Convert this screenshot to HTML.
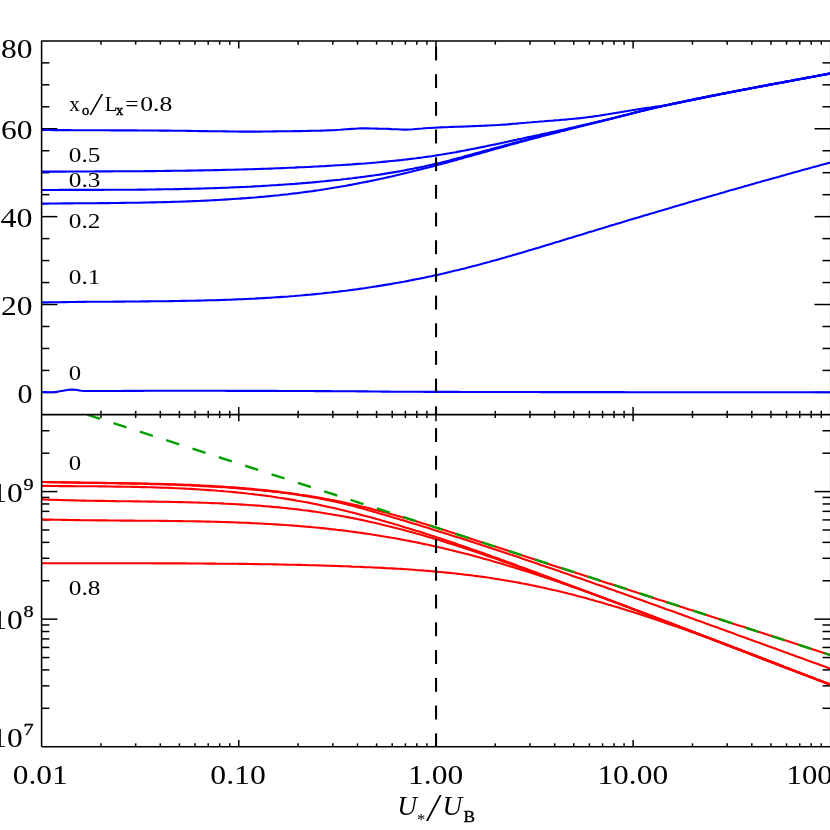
<!DOCTYPE html>
<html><head><meta charset="utf-8"><title>Plot</title>
<style>
html,body{margin:0;padding:0;background:#fff;}
body{width:830px;height:830px;overflow:hidden;font-family:"Liberation Serif",serif;}
svg{display:block;will-change:transform;}
text{fill:#000}
</style></head><body>
<svg width="830" height="830" viewBox="0 0 830 830">
<defs>
<clipPath id="c1"><rect x="41.6" y="40.9" width="788.6999999999999" height="373.70000000000005"/></clipPath>
<clipPath id="c2"><rect x="41.6" y="414.6" width="788.6999999999999" height="332.15"/></clipPath>
</defs>
<rect width="830" height="830" fill="#fff"/>
<line x1="100.95" y1="40.90" x2="100.95" y2="44.65" stroke="#000" stroke-width="1.5" />
<line x1="100.95" y1="410.85" x2="100.95" y2="418.00" stroke="#000" stroke-width="1.5" />
<line x1="100.95" y1="743.35" x2="100.95" y2="746.75" stroke="#000" stroke-width="1.5" />
<line x1="135.67" y1="40.90" x2="135.67" y2="44.65" stroke="#000" stroke-width="1.5" />
<line x1="135.67" y1="410.85" x2="135.67" y2="418.00" stroke="#000" stroke-width="1.5" />
<line x1="135.67" y1="743.35" x2="135.67" y2="746.75" stroke="#000" stroke-width="1.5" />
<line x1="160.31" y1="40.90" x2="160.31" y2="44.65" stroke="#000" stroke-width="1.5" />
<line x1="160.31" y1="410.85" x2="160.31" y2="418.00" stroke="#000" stroke-width="1.5" />
<line x1="160.31" y1="743.35" x2="160.31" y2="746.75" stroke="#000" stroke-width="1.5" />
<line x1="179.42" y1="40.90" x2="179.42" y2="44.65" stroke="#000" stroke-width="1.5" />
<line x1="179.42" y1="410.85" x2="179.42" y2="418.00" stroke="#000" stroke-width="1.5" />
<line x1="179.42" y1="743.35" x2="179.42" y2="746.75" stroke="#000" stroke-width="1.5" />
<line x1="195.03" y1="40.90" x2="195.03" y2="44.65" stroke="#000" stroke-width="1.5" />
<line x1="195.03" y1="410.85" x2="195.03" y2="418.00" stroke="#000" stroke-width="1.5" />
<line x1="195.03" y1="743.35" x2="195.03" y2="746.75" stroke="#000" stroke-width="1.5" />
<line x1="208.23" y1="40.90" x2="208.23" y2="44.65" stroke="#000" stroke-width="1.5" />
<line x1="208.23" y1="410.85" x2="208.23" y2="418.00" stroke="#000" stroke-width="1.5" />
<line x1="208.23" y1="743.35" x2="208.23" y2="746.75" stroke="#000" stroke-width="1.5" />
<line x1="219.66" y1="40.90" x2="219.66" y2="44.65" stroke="#000" stroke-width="1.5" />
<line x1="219.66" y1="410.85" x2="219.66" y2="418.00" stroke="#000" stroke-width="1.5" />
<line x1="219.66" y1="743.35" x2="219.66" y2="746.75" stroke="#000" stroke-width="1.5" />
<line x1="229.75" y1="40.90" x2="229.75" y2="44.65" stroke="#000" stroke-width="1.5" />
<line x1="229.75" y1="410.85" x2="229.75" y2="418.00" stroke="#000" stroke-width="1.5" />
<line x1="229.75" y1="743.35" x2="229.75" y2="746.75" stroke="#000" stroke-width="1.5" />
<line x1="238.77" y1="40.90" x2="238.77" y2="48.40" stroke="#000" stroke-width="1.5" />
<line x1="238.77" y1="407.10" x2="238.77" y2="421.30" stroke="#000" stroke-width="1.5" />
<line x1="238.77" y1="740.05" x2="238.77" y2="746.75" stroke="#000" stroke-width="1.5" />
<line x1="298.12" y1="40.90" x2="298.12" y2="44.65" stroke="#000" stroke-width="1.5" />
<line x1="298.12" y1="410.85" x2="298.12" y2="418.00" stroke="#000" stroke-width="1.5" />
<line x1="298.12" y1="743.35" x2="298.12" y2="746.75" stroke="#000" stroke-width="1.5" />
<line x1="332.84" y1="40.90" x2="332.84" y2="44.65" stroke="#000" stroke-width="1.5" />
<line x1="332.84" y1="410.85" x2="332.84" y2="418.00" stroke="#000" stroke-width="1.5" />
<line x1="332.84" y1="743.35" x2="332.84" y2="746.75" stroke="#000" stroke-width="1.5" />
<line x1="357.48" y1="40.90" x2="357.48" y2="44.65" stroke="#000" stroke-width="1.5" />
<line x1="357.48" y1="410.85" x2="357.48" y2="418.00" stroke="#000" stroke-width="1.5" />
<line x1="357.48" y1="743.35" x2="357.48" y2="746.75" stroke="#000" stroke-width="1.5" />
<line x1="376.59" y1="40.90" x2="376.59" y2="44.65" stroke="#000" stroke-width="1.5" />
<line x1="376.59" y1="410.85" x2="376.59" y2="418.00" stroke="#000" stroke-width="1.5" />
<line x1="376.59" y1="743.35" x2="376.59" y2="746.75" stroke="#000" stroke-width="1.5" />
<line x1="392.20" y1="40.90" x2="392.20" y2="44.65" stroke="#000" stroke-width="1.5" />
<line x1="392.20" y1="410.85" x2="392.20" y2="418.00" stroke="#000" stroke-width="1.5" />
<line x1="392.20" y1="743.35" x2="392.20" y2="746.75" stroke="#000" stroke-width="1.5" />
<line x1="405.40" y1="40.90" x2="405.40" y2="44.65" stroke="#000" stroke-width="1.5" />
<line x1="405.40" y1="410.85" x2="405.40" y2="418.00" stroke="#000" stroke-width="1.5" />
<line x1="405.40" y1="743.35" x2="405.40" y2="746.75" stroke="#000" stroke-width="1.5" />
<line x1="416.83" y1="40.90" x2="416.83" y2="44.65" stroke="#000" stroke-width="1.5" />
<line x1="416.83" y1="410.85" x2="416.83" y2="418.00" stroke="#000" stroke-width="1.5" />
<line x1="416.83" y1="743.35" x2="416.83" y2="746.75" stroke="#000" stroke-width="1.5" />
<line x1="426.92" y1="40.90" x2="426.92" y2="44.65" stroke="#000" stroke-width="1.5" />
<line x1="426.92" y1="410.85" x2="426.92" y2="418.00" stroke="#000" stroke-width="1.5" />
<line x1="426.92" y1="743.35" x2="426.92" y2="746.75" stroke="#000" stroke-width="1.5" />
<line x1="435.94" y1="40.90" x2="435.94" y2="48.40" stroke="#000" stroke-width="1.5" />
<line x1="435.94" y1="407.10" x2="435.94" y2="421.30" stroke="#000" stroke-width="1.5" />
<line x1="435.94" y1="740.05" x2="435.94" y2="746.75" stroke="#000" stroke-width="1.5" />
<line x1="495.29" y1="40.90" x2="495.29" y2="44.65" stroke="#000" stroke-width="1.5" />
<line x1="495.29" y1="410.85" x2="495.29" y2="418.00" stroke="#000" stroke-width="1.5" />
<line x1="495.29" y1="743.35" x2="495.29" y2="746.75" stroke="#000" stroke-width="1.5" />
<line x1="530.01" y1="40.90" x2="530.01" y2="44.65" stroke="#000" stroke-width="1.5" />
<line x1="530.01" y1="410.85" x2="530.01" y2="418.00" stroke="#000" stroke-width="1.5" />
<line x1="530.01" y1="743.35" x2="530.01" y2="746.75" stroke="#000" stroke-width="1.5" />
<line x1="554.65" y1="40.90" x2="554.65" y2="44.65" stroke="#000" stroke-width="1.5" />
<line x1="554.65" y1="410.85" x2="554.65" y2="418.00" stroke="#000" stroke-width="1.5" />
<line x1="554.65" y1="743.35" x2="554.65" y2="746.75" stroke="#000" stroke-width="1.5" />
<line x1="573.76" y1="40.90" x2="573.76" y2="44.65" stroke="#000" stroke-width="1.5" />
<line x1="573.76" y1="410.85" x2="573.76" y2="418.00" stroke="#000" stroke-width="1.5" />
<line x1="573.76" y1="743.35" x2="573.76" y2="746.75" stroke="#000" stroke-width="1.5" />
<line x1="589.37" y1="40.90" x2="589.37" y2="44.65" stroke="#000" stroke-width="1.5" />
<line x1="589.37" y1="410.85" x2="589.37" y2="418.00" stroke="#000" stroke-width="1.5" />
<line x1="589.37" y1="743.35" x2="589.37" y2="746.75" stroke="#000" stroke-width="1.5" />
<line x1="602.57" y1="40.90" x2="602.57" y2="44.65" stroke="#000" stroke-width="1.5" />
<line x1="602.57" y1="410.85" x2="602.57" y2="418.00" stroke="#000" stroke-width="1.5" />
<line x1="602.57" y1="743.35" x2="602.57" y2="746.75" stroke="#000" stroke-width="1.5" />
<line x1="614.00" y1="40.90" x2="614.00" y2="44.65" stroke="#000" stroke-width="1.5" />
<line x1="614.00" y1="410.85" x2="614.00" y2="418.00" stroke="#000" stroke-width="1.5" />
<line x1="614.00" y1="743.35" x2="614.00" y2="746.75" stroke="#000" stroke-width="1.5" />
<line x1="624.09" y1="40.90" x2="624.09" y2="44.65" stroke="#000" stroke-width="1.5" />
<line x1="624.09" y1="410.85" x2="624.09" y2="418.00" stroke="#000" stroke-width="1.5" />
<line x1="624.09" y1="743.35" x2="624.09" y2="746.75" stroke="#000" stroke-width="1.5" />
<line x1="633.11" y1="40.90" x2="633.11" y2="48.40" stroke="#000" stroke-width="1.5" />
<line x1="633.11" y1="407.10" x2="633.11" y2="421.30" stroke="#000" stroke-width="1.5" />
<line x1="633.11" y1="740.05" x2="633.11" y2="746.75" stroke="#000" stroke-width="1.5" />
<line x1="692.46" y1="40.90" x2="692.46" y2="44.65" stroke="#000" stroke-width="1.5" />
<line x1="692.46" y1="410.85" x2="692.46" y2="418.00" stroke="#000" stroke-width="1.5" />
<line x1="692.46" y1="743.35" x2="692.46" y2="746.75" stroke="#000" stroke-width="1.5" />
<line x1="727.18" y1="40.90" x2="727.18" y2="44.65" stroke="#000" stroke-width="1.5" />
<line x1="727.18" y1="410.85" x2="727.18" y2="418.00" stroke="#000" stroke-width="1.5" />
<line x1="727.18" y1="743.35" x2="727.18" y2="746.75" stroke="#000" stroke-width="1.5" />
<line x1="751.82" y1="40.90" x2="751.82" y2="44.65" stroke="#000" stroke-width="1.5" />
<line x1="751.82" y1="410.85" x2="751.82" y2="418.00" stroke="#000" stroke-width="1.5" />
<line x1="751.82" y1="743.35" x2="751.82" y2="746.75" stroke="#000" stroke-width="1.5" />
<line x1="770.93" y1="40.90" x2="770.93" y2="44.65" stroke="#000" stroke-width="1.5" />
<line x1="770.93" y1="410.85" x2="770.93" y2="418.00" stroke="#000" stroke-width="1.5" />
<line x1="770.93" y1="743.35" x2="770.93" y2="746.75" stroke="#000" stroke-width="1.5" />
<line x1="786.54" y1="40.90" x2="786.54" y2="44.65" stroke="#000" stroke-width="1.5" />
<line x1="786.54" y1="410.85" x2="786.54" y2="418.00" stroke="#000" stroke-width="1.5" />
<line x1="786.54" y1="743.35" x2="786.54" y2="746.75" stroke="#000" stroke-width="1.5" />
<line x1="799.74" y1="40.90" x2="799.74" y2="44.65" stroke="#000" stroke-width="1.5" />
<line x1="799.74" y1="410.85" x2="799.74" y2="418.00" stroke="#000" stroke-width="1.5" />
<line x1="799.74" y1="743.35" x2="799.74" y2="746.75" stroke="#000" stroke-width="1.5" />
<line x1="811.17" y1="40.90" x2="811.17" y2="44.65" stroke="#000" stroke-width="1.5" />
<line x1="811.17" y1="410.85" x2="811.17" y2="418.00" stroke="#000" stroke-width="1.5" />
<line x1="811.17" y1="743.35" x2="811.17" y2="746.75" stroke="#000" stroke-width="1.5" />
<line x1="821.26" y1="40.90" x2="821.26" y2="44.65" stroke="#000" stroke-width="1.5" />
<line x1="821.26" y1="410.85" x2="821.26" y2="418.00" stroke="#000" stroke-width="1.5" />
<line x1="821.26" y1="743.35" x2="821.26" y2="746.75" stroke="#000" stroke-width="1.5" />
<line x1="41.60" y1="392.40" x2="57.40" y2="392.40" stroke="#000" stroke-width="1.5" />
<line x1="814.50" y1="392.40" x2="830.30" y2="392.40" stroke="#000" stroke-width="1.5" />
<line x1="41.60" y1="370.43" x2="49.40" y2="370.43" stroke="#000" stroke-width="1.5" />
<line x1="822.50" y1="370.43" x2="830.30" y2="370.43" stroke="#000" stroke-width="1.5" />
<line x1="41.60" y1="348.46" x2="49.40" y2="348.46" stroke="#000" stroke-width="1.5" />
<line x1="822.50" y1="348.46" x2="830.30" y2="348.46" stroke="#000" stroke-width="1.5" />
<line x1="41.60" y1="326.49" x2="49.40" y2="326.49" stroke="#000" stroke-width="1.5" />
<line x1="822.50" y1="326.49" x2="830.30" y2="326.49" stroke="#000" stroke-width="1.5" />
<line x1="41.60" y1="304.52" x2="57.40" y2="304.52" stroke="#000" stroke-width="1.5" />
<line x1="814.50" y1="304.52" x2="830.30" y2="304.52" stroke="#000" stroke-width="1.5" />
<line x1="41.60" y1="282.55" x2="49.40" y2="282.55" stroke="#000" stroke-width="1.5" />
<line x1="822.50" y1="282.55" x2="830.30" y2="282.55" stroke="#000" stroke-width="1.5" />
<line x1="41.60" y1="260.58" x2="49.40" y2="260.58" stroke="#000" stroke-width="1.5" />
<line x1="822.50" y1="260.58" x2="830.30" y2="260.58" stroke="#000" stroke-width="1.5" />
<line x1="41.60" y1="238.61" x2="49.40" y2="238.61" stroke="#000" stroke-width="1.5" />
<line x1="822.50" y1="238.61" x2="830.30" y2="238.61" stroke="#000" stroke-width="1.5" />
<line x1="41.60" y1="216.64" x2="57.40" y2="216.64" stroke="#000" stroke-width="1.5" />
<line x1="814.50" y1="216.64" x2="830.30" y2="216.64" stroke="#000" stroke-width="1.5" />
<line x1="41.60" y1="194.67" x2="49.40" y2="194.67" stroke="#000" stroke-width="1.5" />
<line x1="822.50" y1="194.67" x2="830.30" y2="194.67" stroke="#000" stroke-width="1.5" />
<line x1="41.60" y1="172.70" x2="49.40" y2="172.70" stroke="#000" stroke-width="1.5" />
<line x1="822.50" y1="172.70" x2="830.30" y2="172.70" stroke="#000" stroke-width="1.5" />
<line x1="41.60" y1="150.73" x2="49.40" y2="150.73" stroke="#000" stroke-width="1.5" />
<line x1="822.50" y1="150.73" x2="830.30" y2="150.73" stroke="#000" stroke-width="1.5" />
<line x1="41.60" y1="128.76" x2="57.40" y2="128.76" stroke="#000" stroke-width="1.5" />
<line x1="814.50" y1="128.76" x2="830.30" y2="128.76" stroke="#000" stroke-width="1.5" />
<line x1="41.60" y1="106.79" x2="49.40" y2="106.79" stroke="#000" stroke-width="1.5" />
<line x1="822.50" y1="106.79" x2="830.30" y2="106.79" stroke="#000" stroke-width="1.5" />
<line x1="41.60" y1="84.82" x2="49.40" y2="84.82" stroke="#000" stroke-width="1.5" />
<line x1="822.50" y1="84.82" x2="830.30" y2="84.82" stroke="#000" stroke-width="1.5" />
<line x1="41.60" y1="62.85" x2="49.40" y2="62.85" stroke="#000" stroke-width="1.5" />
<line x1="822.50" y1="62.85" x2="830.30" y2="62.85" stroke="#000" stroke-width="1.5" />
<line x1="41.60" y1="708.30" x2="49.40" y2="708.30" stroke="#000" stroke-width="1.5" />
<line x1="822.50" y1="708.30" x2="830.30" y2="708.30" stroke="#000" stroke-width="1.5" />
<line x1="41.60" y1="685.84" x2="49.40" y2="685.84" stroke="#000" stroke-width="1.5" />
<line x1="822.50" y1="685.84" x2="830.30" y2="685.84" stroke="#000" stroke-width="1.5" />
<line x1="41.60" y1="669.91" x2="49.40" y2="669.91" stroke="#000" stroke-width="1.5" />
<line x1="822.50" y1="669.91" x2="830.30" y2="669.91" stroke="#000" stroke-width="1.5" />
<line x1="41.60" y1="657.55" x2="49.40" y2="657.55" stroke="#000" stroke-width="1.5" />
<line x1="822.50" y1="657.55" x2="830.30" y2="657.55" stroke="#000" stroke-width="1.5" />
<line x1="41.60" y1="647.45" x2="49.40" y2="647.45" stroke="#000" stroke-width="1.5" />
<line x1="822.50" y1="647.45" x2="830.30" y2="647.45" stroke="#000" stroke-width="1.5" />
<line x1="41.60" y1="638.91" x2="49.40" y2="638.91" stroke="#000" stroke-width="1.5" />
<line x1="822.50" y1="638.91" x2="830.30" y2="638.91" stroke="#000" stroke-width="1.5" />
<line x1="41.60" y1="631.51" x2="49.40" y2="631.51" stroke="#000" stroke-width="1.5" />
<line x1="822.50" y1="631.51" x2="830.30" y2="631.51" stroke="#000" stroke-width="1.5" />
<line x1="41.60" y1="624.99" x2="49.40" y2="624.99" stroke="#000" stroke-width="1.5" />
<line x1="822.50" y1="624.99" x2="830.30" y2="624.99" stroke="#000" stroke-width="1.5" />
<line x1="41.60" y1="619.15" x2="57.40" y2="619.15" stroke="#000" stroke-width="1.5" />
<line x1="814.50" y1="619.15" x2="830.30" y2="619.15" stroke="#000" stroke-width="1.5" />
<line x1="41.60" y1="580.75" x2="49.40" y2="580.75" stroke="#000" stroke-width="1.5" />
<line x1="822.50" y1="580.75" x2="830.30" y2="580.75" stroke="#000" stroke-width="1.5" />
<line x1="41.60" y1="558.29" x2="49.40" y2="558.29" stroke="#000" stroke-width="1.5" />
<line x1="822.50" y1="558.29" x2="830.30" y2="558.29" stroke="#000" stroke-width="1.5" />
<line x1="41.60" y1="542.36" x2="49.40" y2="542.36" stroke="#000" stroke-width="1.5" />
<line x1="822.50" y1="542.36" x2="830.30" y2="542.36" stroke="#000" stroke-width="1.5" />
<line x1="41.60" y1="530.00" x2="49.40" y2="530.00" stroke="#000" stroke-width="1.5" />
<line x1="822.50" y1="530.00" x2="830.30" y2="530.00" stroke="#000" stroke-width="1.5" />
<line x1="41.60" y1="519.90" x2="49.40" y2="519.90" stroke="#000" stroke-width="1.5" />
<line x1="822.50" y1="519.90" x2="830.30" y2="519.90" stroke="#000" stroke-width="1.5" />
<line x1="41.60" y1="511.36" x2="49.40" y2="511.36" stroke="#000" stroke-width="1.5" />
<line x1="822.50" y1="511.36" x2="830.30" y2="511.36" stroke="#000" stroke-width="1.5" />
<line x1="41.60" y1="503.96" x2="49.40" y2="503.96" stroke="#000" stroke-width="1.5" />
<line x1="822.50" y1="503.96" x2="830.30" y2="503.96" stroke="#000" stroke-width="1.5" />
<line x1="41.60" y1="497.44" x2="49.40" y2="497.44" stroke="#000" stroke-width="1.5" />
<line x1="822.50" y1="497.44" x2="830.30" y2="497.44" stroke="#000" stroke-width="1.5" />
<line x1="41.60" y1="491.60" x2="57.40" y2="491.60" stroke="#000" stroke-width="1.5" />
<line x1="814.50" y1="491.60" x2="830.30" y2="491.60" stroke="#000" stroke-width="1.5" />
<line x1="41.60" y1="453.20" x2="49.40" y2="453.20" stroke="#000" stroke-width="1.5" />
<line x1="822.50" y1="453.20" x2="830.30" y2="453.20" stroke="#000" stroke-width="1.5" />
<line x1="41.60" y1="430.74" x2="49.40" y2="430.74" stroke="#000" stroke-width="1.5" />
<line x1="822.50" y1="430.74" x2="830.30" y2="430.74" stroke="#000" stroke-width="1.5" />
<g clip-path="url(#c1)">
<path d="M41.6,392.0 L44.6,392.1 L47.7,392.2 L50.7,392.2 L53.8,392.1 L56.8,391.8 L59.9,391.3 L62.9,390.8 L66.0,390.2 L69.0,389.8 L72.0,389.5 L75.1,389.7 L78.1,390.2 L81.2,390.8 L84.2,391.0 L87.3,391.0 L90.3,391.0 L93.3,391.0 L96.4,391.0 L99.4,391.0 L102.5,391.0 L105.5,391.0 L108.6,391.0 L111.6,391.0 L114.7,391.0 L117.7,391.0 L120.7,391.0 L123.8,390.9 L126.8,390.9 L129.9,390.9 L132.9,390.9 L136.0,390.9 L139.0,390.9 L142.1,390.9 L145.1,390.8 L148.1,390.8 L151.2,390.8 L154.2,390.8 L157.3,390.8 L160.3,390.8 L163.4,390.8 L166.4,390.8 L169.4,390.8 L172.5,390.8 L175.5,390.8 L178.6,390.8 L181.6,390.8 L184.7,390.8 L187.7,390.8 L190.8,390.8 L193.8,390.8 L196.8,390.8 L199.9,390.8 L202.9,390.8 L206.0,390.8 L209.0,390.8 L212.1,390.8 L215.1,390.8 L218.2,390.8 L221.2,390.8 L224.2,390.8 L227.3,390.9 L230.3,390.9 L233.4,390.9 L236.4,390.9 L239.5,390.9 L242.5,390.9 L245.5,390.9 L248.6,390.9 L251.6,390.9 L254.7,390.9 L257.7,390.9 L260.8,390.9 L263.8,390.9 L266.9,390.9 L269.9,390.9 L272.9,390.9 L276.0,390.9 L279.0,391.0 L282.1,391.0 L285.1,391.0 L288.2,391.0 L291.2,391.0 L294.3,391.0 L297.3,391.0 L300.3,391.0 L303.4,391.0 L306.4,391.0 L309.5,391.0 L312.5,391.0 L315.6,391.1 L318.6,391.1 L321.6,391.1 L324.7,391.1 L327.7,391.1 L330.8,391.1 L333.8,391.2 L336.9,391.2 L339.9,391.2 L343.0,391.2 L346.0,391.3 L349.0,391.3 L352.1,391.3 L355.1,391.3 L358.2,391.4 L361.2,391.4 L364.3,391.4 L367.3,391.4 L370.4,391.5 L373.4,391.5 L376.4,391.5 L379.5,391.5 L382.5,391.6 L385.6,391.6 L388.6,391.6 L391.7,391.7 L394.7,391.7 L397.7,391.7 L400.8,391.7 L403.8,391.7 L406.9,391.8 L409.9,391.8 L413.0,391.8 L416.0,391.8 L419.1,391.8 L422.1,391.8 L425.1,391.9 L428.2,391.9 L431.2,391.9 L434.3,391.9 L437.3,391.9 L440.4,391.9 L443.4,391.9 L446.5,391.9 L449.5,391.9 L452.5,391.9 L455.6,391.9 L458.6,391.9 L461.7,392.0 L464.7,392.0 L467.8,392.0 L470.8,392.0 L473.9,392.0 L476.9,392.0 L479.9,392.0 L483.0,392.0 L486.0,392.0 L489.1,392.0 L492.1,392.0 L495.2,392.0 L498.2,392.0 L501.2,392.0 L504.3,392.0 L507.3,392.0 L510.4,392.0 L513.4,392.0 L516.5,392.0 L519.5,392.0 L522.6,392.0 L525.6,392.0 L528.6,392.0 L531.7,392.0 L534.7,392.0 L537.8,392.0 L540.8,392.1 L543.9,392.1 L546.9,392.1 L550.0,392.1 L553.0,392.1 L556.0,392.1 L559.1,392.1 L562.1,392.1 L565.2,392.1 L568.2,392.1 L571.3,392.1 L574.3,392.1 L577.3,392.1 L580.4,392.1 L583.4,392.1 L586.5,392.1 L589.5,392.1 L592.6,392.1 L595.6,392.1 L598.7,392.1 L601.7,392.1 L604.7,392.1 L607.8,392.1 L610.8,392.1 L613.9,392.1 L616.9,392.1 L620.0,392.1 L623.0,392.1 L626.1,392.2 L629.1,392.2 L632.1,392.2 L635.2,392.2 L638.2,392.2 L641.3,392.2 L644.3,392.2 L647.4,392.2 L650.4,392.2 L653.4,392.2 L656.5,392.2 L659.5,392.2 L662.6,392.2 L665.6,392.2 L668.7,392.2 L671.7,392.2 L674.8,392.2 L677.8,392.2 L680.8,392.2 L683.9,392.2 L686.9,392.2 L690.0,392.2 L693.0,392.2 L696.1,392.2 L699.1,392.2 L702.2,392.2 L705.2,392.2 L708.2,392.2 L711.3,392.2 L714.3,392.2 L717.4,392.2 L720.4,392.2 L723.5,392.2 L726.5,392.2 L729.5,392.2 L732.6,392.2 L735.6,392.3 L738.7,392.3 L741.7,392.3 L744.8,392.3 L747.8,392.3 L750.9,392.3 L753.9,392.3 L756.9,392.3 L760.0,392.3 L763.0,392.3 L766.1,392.3 L769.1,392.3 L772.2,392.3 L775.2,392.3 L778.3,392.3 L781.3,392.3 L784.3,392.3 L787.4,392.3 L790.4,392.3 L793.5,392.3 L796.5,392.3 L799.6,392.3 L802.6,392.3 L805.6,392.3 L808.7,392.3 L811.7,392.3 L814.8,392.3 L817.8,392.3 L820.9,392.3 L823.9,392.3 L827.0,392.3 L830.0,392.3" fill="none" stroke="#0000ff" stroke-width="2.1" stroke-linejoin="round"/>
<path d="M41.6,302.5 L44.6,302.4 L47.7,302.4 L50.7,302.3 L53.8,302.3 L56.8,302.2 L59.9,302.2 L62.9,302.1 L66.0,302.1 L69.0,302.0 L72.0,302.0 L75.1,302.0 L78.1,301.9 L81.2,301.9 L84.2,301.9 L87.3,301.8 L90.3,301.8 L93.3,301.8 L96.4,301.8 L99.4,301.7 L102.5,301.7 L105.5,301.7 L108.6,301.7 L111.6,301.7 L114.7,301.6 L117.7,301.6 L120.7,301.6 L123.8,301.6 L126.8,301.5 L129.9,301.5 L132.9,301.5 L136.0,301.5 L139.0,301.5 L142.1,301.4 L145.1,301.4 L148.1,301.4 L151.2,301.3 L154.2,301.3 L157.3,301.3 L160.3,301.2 L163.4,301.2 L166.4,301.2 L169.4,301.1 L172.5,301.1 L175.5,301.0 L178.6,301.0 L181.6,300.9 L184.7,300.9 L187.7,300.8 L190.8,300.8 L193.8,300.7 L196.8,300.6 L199.9,300.6 L202.9,300.5 L206.0,300.4 L209.0,300.3 L212.1,300.3 L215.1,300.2 L218.2,300.1 L221.2,300.0 L224.2,299.9 L227.3,299.8 L230.3,299.7 L233.4,299.5 L236.4,299.4 L239.5,299.3 L242.5,299.2 L245.5,299.0 L248.6,298.9 L251.6,298.7 L254.7,298.6 L257.7,298.4 L260.8,298.3 L263.8,298.1 L266.9,297.9 L269.9,297.7 L272.9,297.5 L276.0,297.3 L279.0,297.1 L282.1,296.9 L285.1,296.7 L288.2,296.5 L291.2,296.2 L294.3,296.0 L297.3,295.7 L300.3,295.5 L303.4,295.2 L306.4,294.9 L309.5,294.7 L312.5,294.4 L315.6,294.1 L318.6,293.8 L321.6,293.5 L324.7,293.1 L327.7,292.8 L330.8,292.5 L333.8,292.1 L336.9,291.8 L339.9,291.4 L343.0,291.0 L346.0,290.7 L349.0,290.3 L352.1,289.9 L355.1,289.5 L358.2,289.1 L361.2,288.6 L364.3,288.2 L367.3,287.7 L370.4,287.3 L373.4,286.8 L376.4,286.4 L379.5,285.9 L382.5,285.4 L385.6,284.9 L388.6,284.4 L391.7,283.9 L394.7,283.3 L397.7,282.8 L400.8,282.2 L403.8,281.7 L406.9,281.1 L409.9,280.5 L413.0,279.9 L416.0,279.3 L419.1,278.7 L422.1,278.1 L425.1,277.5 L428.2,276.8 L431.2,276.2 L434.3,275.5 L437.3,274.9 L440.4,274.2 L443.4,273.5 L446.5,272.8 L449.5,272.1 L452.5,271.3 L455.6,270.6 L458.6,269.9 L461.7,269.1 L464.7,268.4 L467.8,267.6 L470.8,266.8 L473.9,266.0 L476.9,265.2 L479.9,264.4 L483.0,263.6 L486.0,262.8 L489.1,262.0 L492.1,261.1 L495.2,260.3 L498.2,259.4 L501.2,258.6 L504.3,257.7 L507.3,256.8 L510.4,256.0 L513.4,255.1 L516.5,254.2 L519.5,253.3 L522.6,252.4 L525.6,251.5 L528.6,250.6 L531.7,249.7 L534.7,248.8 L537.8,247.9 L540.8,247.0 L543.9,246.0 L546.9,245.1 L550.0,244.2 L553.0,243.3 L556.0,242.3 L559.1,241.4 L562.1,240.5 L565.2,239.5 L568.2,238.6 L571.3,237.7 L574.3,236.7 L577.3,235.8 L580.4,234.9 L583.4,234.0 L586.5,233.0 L589.5,232.1 L592.6,231.2 L595.6,230.2 L598.7,229.3 L601.7,228.4 L604.7,227.5 L607.8,226.6 L610.8,225.6 L613.9,224.7 L616.9,223.8 L620.0,222.9 L623.0,222.0 L626.1,221.0 L629.1,220.1 L632.1,219.2 L635.2,218.3 L638.2,217.4 L641.3,216.5 L644.3,215.6 L647.4,214.7 L650.4,213.8 L653.4,212.9 L656.5,212.0 L659.5,211.1 L662.6,210.2 L665.6,209.3 L668.7,208.4 L671.7,207.5 L674.8,206.6 L677.8,205.7 L680.8,204.8 L683.9,203.9 L686.9,203.0 L690.0,202.1 L693.0,201.2 L696.1,200.3 L699.1,199.4 L702.2,198.6 L705.2,197.7 L708.2,196.8 L711.3,195.9 L714.3,195.0 L717.4,194.2 L720.4,193.3 L723.5,192.4 L726.5,191.5 L729.5,190.6 L732.6,189.8 L735.6,188.9 L738.7,188.0 L741.7,187.2 L744.8,186.3 L747.8,185.4 L750.9,184.6 L753.9,183.7 L756.9,182.8 L760.0,182.0 L763.0,181.1 L766.1,180.3 L769.1,179.4 L772.2,178.6 L775.2,177.7 L778.3,176.9 L781.3,176.0 L784.3,175.2 L787.4,174.3 L790.4,173.5 L793.5,172.6 L796.5,171.8 L799.6,170.9 L802.6,170.1 L805.6,169.3 L808.7,168.4 L811.7,167.6 L814.8,166.7 L817.8,165.9 L820.9,165.1 L823.9,164.3 L827.0,163.4 L830.0,162.6" fill="none" stroke="#0000ff" stroke-width="2.1" stroke-linejoin="round"/>
<path d="M41.6,203.6 L44.6,203.6 L47.7,203.6 L50.7,203.5 L53.8,203.5 L56.8,203.5 L59.9,203.5 L62.9,203.4 L66.0,203.4 L69.0,203.4 L72.0,203.4 L75.1,203.3 L78.1,203.3 L81.2,203.3 L84.2,203.3 L87.3,203.2 L90.3,203.2 L93.3,203.2 L96.4,203.2 L99.4,203.1 L102.5,203.1 L105.5,203.1 L108.6,203.1 L111.6,203.0 L114.7,203.0 L117.7,203.0 L120.7,202.9 L123.8,202.9 L126.8,202.8 L129.9,202.8 L132.9,202.8 L136.0,202.7 L139.0,202.7 L142.1,202.6 L145.1,202.5 L148.1,202.5 L151.2,202.4 L154.2,202.4 L157.3,202.3 L160.3,202.2 L163.4,202.1 L166.4,202.1 L169.4,202.0 L172.5,201.9 L175.5,201.8 L178.6,201.7 L181.6,201.6 L184.7,201.5 L187.7,201.4 L190.8,201.3 L193.8,201.1 L196.8,201.0 L199.9,200.9 L202.9,200.7 L206.0,200.6 L209.0,200.5 L212.1,200.3 L215.1,200.1 L218.2,200.0 L221.2,199.8 L224.2,199.6 L227.3,199.4 L230.3,199.2 L233.4,199.0 L236.4,198.8 L239.5,198.6 L242.5,198.4 L245.5,198.2 L248.6,197.9 L251.6,197.7 L254.7,197.5 L257.7,197.2 L260.8,196.9 L263.8,196.7 L266.9,196.4 L269.9,196.1 L272.9,195.8 L276.0,195.5 L279.0,195.2 L282.1,194.8 L285.1,194.5 L288.2,194.2 L291.2,193.8 L294.3,193.4 L297.3,193.1 L300.3,192.7 L303.4,192.3 L306.4,191.9 L309.5,191.5 L312.5,191.1 L315.6,190.6 L318.6,190.2 L321.6,189.7 L324.7,189.3 L327.7,188.8 L330.8,188.3 L333.8,187.8 L336.9,187.3 L339.9,186.8 L343.0,186.2 L346.0,185.7 L349.0,185.1 L352.1,184.6 L355.1,184.0 L358.2,183.4 L361.2,182.8 L364.3,182.2 L367.3,181.6 L370.4,181.0 L373.4,180.4 L376.4,179.7 L379.5,179.1 L382.5,178.4 L385.6,177.7 L388.6,177.1 L391.7,176.4 L394.7,175.7 L397.7,175.0 L400.8,174.3 L403.8,173.5 L406.9,172.8 L409.9,172.1 L413.0,171.3 L416.0,170.6 L419.1,169.8 L422.1,169.0 L425.1,168.3 L428.2,167.5 L431.2,166.7 L434.3,165.9 L437.3,165.1 L440.4,164.3 L443.4,163.5 L446.5,162.7 L449.5,161.8 L452.5,161.0 L455.6,160.2 L458.6,159.3 L461.7,158.5 L464.7,157.6 L467.8,156.8 L470.8,155.9 L473.9,155.1 L476.9,154.2 L479.9,153.4 L483.0,152.5 L486.0,151.7 L489.1,150.8 L492.1,149.9 L495.2,149.1 L498.2,148.2 L501.2,147.4 L504.3,146.5 L507.3,145.7 L510.4,144.8 L513.4,144.0 L516.5,143.2 L519.5,142.3 L522.6,141.5 L525.6,140.7 L528.6,139.8 L531.7,139.0 L534.7,138.2 L537.8,137.4 L540.8,136.6 L543.9,135.8 L546.9,135.0 L550.0,134.2 L553.0,133.5 L556.0,132.7 L559.1,131.9 L562.1,131.1 L565.2,130.4 L568.2,129.6 L571.3,128.8 L574.3,128.0 L577.3,127.3 L580.4,126.5 L583.4,125.8 L586.5,125.0 L589.5,124.2 L592.6,123.5 L595.6,122.7 L598.7,121.9 L601.7,121.2 L604.7,120.4 L607.8,119.6 L610.8,118.9 L613.9,118.1 L616.9,117.3 L620.0,116.5 L623.0,115.8 L626.1,115.0 L629.1,114.2 L632.1,113.4 L635.2,112.6 L638.2,111.9 L641.3,111.1 L644.3,110.4 L647.4,109.6 L650.4,108.9 L653.4,108.2 L656.5,107.5 L659.5,106.9 L662.6,106.2 L665.6,105.5 L668.7,104.9 L671.7,104.2 L674.8,103.6 L677.8,103.0 L680.8,102.3 L683.9,101.7 L686.9,101.0 L690.0,100.4 L693.0,99.8 L696.1,99.2 L699.1,98.6 L702.2,97.9 L705.2,97.3 L708.2,96.7 L711.3,96.1 L714.3,95.5 L717.4,94.9 L720.4,94.3 L723.5,93.7 L726.5,93.1 L729.5,92.5 L732.6,91.9 L735.6,91.3 L738.7,90.7 L741.7,90.2 L744.8,89.6 L747.8,89.0 L750.9,88.4 L753.9,87.8 L756.9,87.3 L760.0,86.7 L763.0,86.1 L766.1,85.5 L769.1,85.0 L772.2,84.4 L775.2,83.8 L778.3,83.2 L781.3,82.7 L784.3,82.1 L787.4,81.5 L790.4,81.0 L793.5,80.4 L796.5,79.8 L799.6,79.2 L802.6,78.7 L805.6,78.1 L808.7,77.5 L811.7,77.0 L814.8,76.4 L817.8,75.8 L820.9,75.3 L823.9,74.7 L827.0,74.1 L830.0,73.6" fill="none" stroke="#0000ff" stroke-width="2.1" stroke-linejoin="round"/>
<path d="M41.6,190.0 L44.6,190.0 L47.7,190.0 L50.7,190.0 L53.8,190.0 L56.8,190.0 L59.9,189.9 L62.9,189.9 L66.0,189.9 L69.0,189.9 L72.0,189.9 L75.1,189.9 L78.1,189.9 L81.2,189.9 L84.2,189.9 L87.3,189.9 L90.3,189.9 L93.3,189.9 L96.4,189.9 L99.4,189.9 L102.5,189.9 L105.5,189.8 L108.6,189.8 L111.6,189.8 L114.7,189.8 L117.7,189.8 L120.7,189.8 L123.8,189.8 L126.8,189.7 L129.9,189.7 L132.9,189.7 L136.0,189.7 L139.0,189.6 L142.1,189.6 L145.1,189.6 L148.1,189.5 L151.2,189.5 L154.2,189.5 L157.3,189.4 L160.3,189.4 L163.4,189.3 L166.4,189.3 L169.4,189.2 L172.5,189.2 L175.5,189.1 L178.6,189.1 L181.6,189.0 L184.7,188.9 L187.7,188.9 L190.8,188.8 L193.8,188.7 L196.8,188.6 L199.9,188.6 L202.9,188.5 L206.0,188.4 L209.0,188.3 L212.1,188.2 L215.1,188.1 L218.2,188.0 L221.2,187.9 L224.2,187.8 L227.3,187.7 L230.3,187.5 L233.4,187.4 L236.4,187.3 L239.5,187.1 L242.5,187.0 L245.5,186.9 L248.6,186.7 L251.6,186.6 L254.7,186.4 L257.7,186.2 L260.8,186.1 L263.8,185.9 L266.9,185.7 L269.9,185.5 L272.9,185.3 L276.0,185.2 L279.0,184.9 L282.1,184.7 L285.1,184.5 L288.2,184.3 L291.2,184.1 L294.3,183.9 L297.3,183.6 L300.3,183.4 L303.4,183.1 L306.4,182.9 L309.5,182.6 L312.5,182.4 L315.6,182.1 L318.6,181.8 L321.6,181.5 L324.7,181.2 L327.7,180.9 L330.8,180.6 L333.8,180.3 L336.9,180.0 L339.9,179.7 L343.0,179.3 L346.0,179.0 L349.0,178.6 L352.1,178.3 L355.1,177.9 L358.2,177.5 L361.2,177.1 L364.3,176.7 L367.3,176.3 L370.4,175.9 L373.4,175.5 L376.4,175.0 L379.5,174.6 L382.5,174.1 L385.6,173.6 L388.6,173.1 L391.7,172.6 L394.7,172.1 L397.7,171.6 L400.8,171.1 L403.8,170.5 L406.9,169.9 L409.9,169.3 L413.0,168.8 L416.0,168.1 L419.1,167.5 L422.1,166.9 L425.1,166.2 L428.2,165.5 L431.2,164.9 L434.3,164.1 L437.3,163.4 L440.4,162.7 L443.4,161.9 L446.5,161.2 L449.5,160.4 L452.5,159.6 L455.6,158.8 L458.6,158.0 L461.7,157.2 L464.7,156.3 L467.8,155.5 L470.8,154.7 L473.9,153.8 L476.9,153.0 L479.9,152.2 L483.0,151.3 L486.0,150.5 L489.1,149.7 L492.1,148.8 L495.2,148.0 L498.2,147.2 L501.2,146.4 L504.3,145.6 L507.3,144.7 L510.4,143.9 L513.4,143.1 L516.5,142.3 L519.5,141.5 L522.6,140.7 L525.6,139.9 L528.6,139.1 L531.7,138.3 L534.7,137.6 L537.8,136.8 L540.8,136.0 L543.9,135.2 L546.9,134.5 L550.0,133.7 L553.0,132.9 L556.0,132.1 L559.1,131.4 L562.1,130.6 L565.2,129.9 L568.2,129.1 L571.3,128.4 L574.3,127.6 L577.3,126.8 L580.4,126.1 L583.4,125.3 L586.5,124.6 L589.5,123.8 L592.6,123.1 L595.6,122.3 L598.7,121.6 L601.7,120.9 L604.7,120.1 L607.8,119.4 L610.8,118.6 L613.9,117.9 L616.9,117.1 L620.0,116.4 L623.0,115.6 L626.1,114.9 L629.1,114.1 L632.1,113.4 L635.2,112.6 L638.2,111.9 L641.3,111.1 L644.3,110.4 L647.4,109.7 L650.4,108.9 L653.4,108.2 L656.5,107.5 L659.5,106.8 L662.6,106.1 L665.6,105.4 L668.7,104.8 L671.7,104.1 L674.8,103.4 L677.8,102.8 L680.8,102.1 L683.9,101.5 L686.9,100.8 L690.0,100.2 L693.0,99.5 L696.1,98.9 L699.1,98.3 L702.2,97.7 L705.2,97.1 L708.2,96.5 L711.3,95.8 L714.3,95.2 L717.4,94.7 L720.4,94.1 L723.5,93.5 L726.5,92.9 L729.5,92.3 L732.6,91.7 L735.6,91.1 L738.7,90.6 L741.7,90.0 L744.8,89.4 L747.8,88.9 L750.9,88.3 L753.9,87.7 L756.9,87.2 L760.0,86.6 L763.0,86.0 L766.1,85.5 L769.1,84.9 L772.2,84.3 L775.2,83.8 L778.3,83.2 L781.3,82.7 L784.3,82.1 L787.4,81.5 L790.4,81.0 L793.5,80.4 L796.5,79.8 L799.6,79.3 L802.6,78.7 L805.6,78.1 L808.7,77.6 L811.7,77.0 L814.8,76.4 L817.8,75.9 L820.9,75.3 L823.9,74.7 L827.0,74.1 L830.0,73.5" fill="none" stroke="#0000ff" stroke-width="2.1" stroke-linejoin="round"/>
<path d="M41.6,171.6 L44.6,171.6 L47.7,171.6 L50.7,171.6 L53.8,171.6 L56.8,171.6 L59.9,171.6 L62.9,171.6 L66.0,171.6 L69.0,171.5 L72.0,171.5 L75.1,171.5 L78.1,171.5 L81.2,171.5 L84.2,171.5 L87.3,171.5 L90.3,171.5 L93.3,171.5 L96.4,171.4 L99.4,171.4 L102.5,171.4 L105.5,171.4 L108.6,171.4 L111.6,171.4 L114.7,171.3 L117.7,171.3 L120.7,171.3 L123.8,171.3 L126.8,171.3 L129.9,171.3 L132.9,171.2 L136.0,171.2 L139.0,171.2 L142.1,171.2 L145.1,171.1 L148.1,171.1 L151.2,171.1 L154.2,171.1 L157.3,171.0 L160.3,171.0 L163.4,171.0 L166.4,170.9 L169.4,170.9 L172.5,170.8 L175.5,170.8 L178.6,170.8 L181.6,170.7 L184.7,170.7 L187.7,170.6 L190.8,170.6 L193.8,170.5 L196.8,170.5 L199.9,170.4 L202.9,170.4 L206.0,170.3 L209.0,170.3 L212.1,170.2 L215.1,170.1 L218.2,170.1 L221.2,170.0 L224.2,169.9 L227.3,169.8 L230.3,169.8 L233.4,169.7 L236.4,169.6 L239.5,169.5 L242.5,169.5 L245.5,169.4 L248.6,169.3 L251.6,169.2 L254.7,169.1 L257.7,169.0 L260.8,168.9 L263.8,168.8 L266.9,168.7 L269.9,168.6 L272.9,168.5 L276.0,168.3 L279.0,168.2 L282.1,168.1 L285.1,168.0 L288.2,167.8 L291.2,167.7 L294.3,167.6 L297.3,167.4 L300.3,167.3 L303.4,167.2 L306.4,167.0 L309.5,166.9 L312.5,166.7 L315.6,166.5 L318.6,166.4 L321.6,166.2 L324.7,166.1 L327.7,165.9 L330.8,165.7 L333.8,165.5 L336.9,165.3 L339.9,165.2 L343.0,165.0 L346.0,164.8 L349.0,164.6 L352.1,164.4 L355.1,164.1 L358.2,163.9 L361.2,163.7 L364.3,163.5 L367.3,163.2 L370.4,163.0 L373.4,162.7 L376.4,162.5 L379.5,162.2 L382.5,161.9 L385.6,161.6 L388.6,161.3 L391.7,161.0 L394.7,160.7 L397.7,160.4 L400.8,160.1 L403.8,159.7 L406.9,159.4 L409.9,159.0 L413.0,158.6 L416.0,158.3 L419.1,157.9 L422.1,157.5 L425.1,157.0 L428.2,156.6 L431.2,156.2 L434.3,155.7 L437.3,155.2 L440.4,154.7 L443.4,154.3 L446.5,153.7 L449.5,153.2 L452.5,152.7 L455.6,152.2 L458.6,151.6 L461.7,151.0 L464.7,150.5 L467.8,149.9 L470.8,149.3 L473.9,148.7 L476.9,148.1 L479.9,147.5 L483.0,146.9 L486.0,146.3 L489.1,145.6 L492.1,145.0 L495.2,144.4 L498.2,143.7 L501.2,143.1 L504.3,142.4 L507.3,141.8 L510.4,141.1 L513.4,140.4 L516.5,139.8 L519.5,139.1 L522.6,138.5 L525.6,137.8 L528.6,137.1 L531.7,136.5 L534.7,135.8 L537.8,135.2 L540.8,134.5 L543.9,133.8 L546.9,133.2 L550.0,132.5 L553.0,131.9 L556.0,131.2 L559.1,130.5 L562.1,129.9 L565.2,129.2 L568.2,128.5 L571.3,127.8 L574.3,127.2 L577.3,126.5 L580.4,125.8 L583.4,125.1 L586.5,124.4 L589.5,123.7 L592.6,123.0 L595.6,122.3 L598.7,121.6 L601.7,120.9 L604.7,120.1 L607.8,119.4 L610.8,118.7 L613.9,117.9 L616.9,117.2 L620.0,116.4 L623.0,115.6 L626.1,114.9 L629.1,114.1 L632.1,113.3 L635.2,112.5 L638.2,111.7 L641.3,111.0 L644.3,110.2 L647.4,109.5 L650.4,108.7 L653.4,108.0 L656.5,107.3 L659.5,106.6 L662.6,105.9 L665.6,105.2 L668.7,104.6 L671.7,103.9 L674.8,103.3 L677.8,102.6 L680.8,102.0 L683.9,101.3 L686.9,100.7 L690.0,100.1 L693.0,99.4 L696.1,98.8 L699.1,98.2 L702.2,97.6 L705.2,97.0 L708.2,96.4 L711.3,95.8 L714.3,95.2 L717.4,94.6 L720.4,94.0 L723.5,93.4 L726.5,92.9 L729.5,92.3 L732.6,91.7 L735.6,91.1 L738.7,90.6 L741.7,90.0 L744.8,89.4 L747.8,88.9 L750.9,88.3 L753.9,87.7 L756.9,87.2 L760.0,86.6 L763.0,86.0 L766.1,85.5 L769.1,84.9 L772.2,84.4 L775.2,83.8 L778.3,83.2 L781.3,82.7 L784.3,82.1 L787.4,81.5 L790.4,81.0 L793.5,80.4 L796.5,79.8 L799.6,79.3 L802.6,78.7 L805.6,78.1 L808.7,77.5 L811.7,77.0 L814.8,76.4 L817.8,75.8 L820.9,75.2 L823.9,74.6 L827.0,74.0 L830.0,73.4" fill="none" stroke="#0000ff" stroke-width="2.1" stroke-linejoin="round"/>
<path d="M41.6,130.0 L44.6,130.0 L47.7,130.0 L50.7,130.0 L53.8,130.1 L56.8,130.1 L59.9,130.1 L62.9,130.1 L66.0,130.1 L69.0,130.1 L72.0,130.2 L75.1,130.2 L78.1,130.2 L81.2,130.2 L84.2,130.2 L87.3,130.2 L90.3,130.3 L93.3,130.3 L96.4,130.3 L99.4,130.3 L102.5,130.3 L105.5,130.3 L108.6,130.3 L111.6,130.4 L114.7,130.4 L117.7,130.4 L120.7,130.4 L123.8,130.4 L126.8,130.4 L129.9,130.4 L132.9,130.4 L136.0,130.4 L139.0,130.5 L142.1,130.5 L145.1,130.5 L148.1,130.5 L151.2,130.5 L154.2,130.5 L157.3,130.5 L160.3,130.6 L163.4,130.6 L166.4,130.6 L169.4,130.6 L172.5,130.7 L175.5,130.7 L178.6,130.7 L181.6,130.8 L184.7,130.8 L187.7,130.9 L190.8,130.9 L193.8,131.0 L196.8,131.0 L199.9,131.1 L202.9,131.1 L206.0,131.1 L209.0,131.2 L212.1,131.2 L215.1,131.3 L218.2,131.3 L221.2,131.3 L224.2,131.4 L227.3,131.4 L230.3,131.5 L233.4,131.5 L236.4,131.5 L239.5,131.6 L242.5,131.6 L245.5,131.6 L248.6,131.6 L251.6,131.6 L254.7,131.6 L257.7,131.6 L260.8,131.6 L263.8,131.5 L266.9,131.5 L269.9,131.5 L272.9,131.4 L276.0,131.4 L279.0,131.3 L282.1,131.3 L285.1,131.3 L288.2,131.2 L291.2,131.2 L294.3,131.1 L297.3,131.1 L300.3,131.1 L303.4,131.0 L306.4,131.0 L309.5,130.9 L312.5,130.8 L315.6,130.8 L318.6,130.7 L321.6,130.6 L324.7,130.5 L327.7,130.4 L330.8,130.3 L333.8,130.2 L336.9,130.0 L339.9,129.8 L343.0,129.5 L346.0,129.3 L349.0,129.1 L352.1,128.9 L355.1,128.7 L358.2,128.5 L361.2,128.4 L364.3,128.4 L367.3,128.4 L370.4,128.5 L373.4,128.5 L376.4,128.6 L379.5,128.7 L382.5,128.7 L385.6,128.8 L388.6,128.9 L391.7,129.1 L394.7,129.2 L397.7,129.3 L400.8,129.5 L403.8,129.6 L406.9,129.6 L409.9,129.5 L413.0,129.3 L416.0,129.0 L419.1,128.7 L422.1,128.5 L425.1,128.2 L428.2,128.0 L431.2,127.9 L434.3,127.7 L437.3,127.5 L440.4,127.4 L443.4,127.3 L446.5,127.2 L449.5,127.0 L452.5,126.9 L455.6,126.8 L458.6,126.7 L461.7,126.6 L464.7,126.5 L467.8,126.4 L470.8,126.3 L473.9,126.1 L476.9,126.0 L479.9,125.9 L483.0,125.8 L486.0,125.6 L489.1,125.5 L492.1,125.3 L495.2,125.2 L498.2,125.0 L501.2,124.8 L504.3,124.6 L507.3,124.4 L510.4,124.1 L513.4,123.8 L516.5,123.6 L519.5,123.3 L522.6,123.0 L525.6,122.8 L528.6,122.5 L531.7,122.3 L534.7,122.0 L537.8,121.8 L540.8,121.5 L543.9,121.3 L546.9,121.0 L550.0,120.8 L553.0,120.6 L556.0,120.3 L559.1,120.1 L562.1,119.8 L565.2,119.6 L568.2,119.3 L571.3,119.0 L574.3,118.7 L577.3,118.4 L580.4,118.1 L583.4,117.7 L586.5,117.4 L589.5,117.0 L592.6,116.6 L595.6,116.1 L598.7,115.7 L601.7,115.2 L604.7,114.7 L607.8,114.3 L610.8,113.8 L613.9,113.3 L616.9,112.8 L620.0,112.3 L623.0,111.8 L626.1,111.3 L629.1,110.8 L632.1,110.3 L635.2,109.8 L638.2,109.3 L641.3,108.8 L644.3,108.3 L647.4,107.9 L650.4,107.5 L653.4,107.0 L656.5,106.6 L659.5,106.2 L662.6,105.7 L665.6,105.2 L668.7,104.7 L671.7,104.1 L674.8,103.6 L677.8,103.0 L680.8,102.4 L683.9,101.8 L686.9,101.1 L690.0,100.5 L693.0,99.9 L696.1,99.2 L699.1,98.6 L702.2,98.0 L705.2,97.4 L708.2,96.7 L711.3,96.1 L714.3,95.5 L717.4,94.9 L720.4,94.3 L723.5,93.6 L726.5,93.0 L729.5,92.4 L732.6,91.8 L735.6,91.2 L738.7,90.6 L741.7,89.9 L744.8,89.3 L747.8,88.7 L750.9,88.1 L753.9,87.6 L756.9,87.0 L760.0,86.4 L763.0,85.8 L766.1,85.2 L769.1,84.6 L772.2,84.1 L775.2,83.5 L778.3,82.9 L781.3,82.3 L784.3,81.8 L787.4,81.2 L790.4,80.7 L793.5,80.1 L796.5,79.5 L799.6,79.0 L802.6,78.4 L805.6,77.9 L808.7,77.3 L811.7,76.8 L814.8,76.2 L817.8,75.7 L820.9,75.1 L823.9,74.6 L827.0,74.0 L830.0,73.5" fill="none" stroke="#0000ff" stroke-width="2.1" stroke-linejoin="round"/>
</g>
<g clip-path="url(#c2)">
<path d="M41.6,563.3 L44.6,563.3 L47.7,563.3 L50.7,563.3 L53.8,563.3 L56.8,563.3 L59.9,563.3 L62.9,563.3 L66.0,563.3 L69.0,563.3 L72.0,563.3 L75.1,563.3 L78.1,563.3 L81.2,563.3 L84.2,563.3 L87.3,563.3 L90.3,563.3 L93.3,563.3 L96.4,563.3 L99.4,563.3 L102.5,563.3 L105.5,563.3 L108.6,563.3 L111.6,563.3 L114.7,563.3 L117.7,563.3 L120.7,563.3 L123.8,563.3 L126.8,563.3 L129.9,563.3 L132.9,563.3 L136.0,563.3 L139.0,563.3 L142.1,563.3 L145.1,563.3 L148.1,563.3 L151.2,563.3 L154.2,563.4 L157.3,563.4 L160.3,563.4 L163.4,563.4 L166.4,563.4 L169.4,563.4 L172.5,563.4 L175.5,563.4 L178.6,563.4 L181.6,563.4 L184.7,563.4 L187.7,563.5 L190.8,563.5 L193.8,563.5 L196.8,563.5 L199.9,563.5 L202.9,563.5 L206.0,563.6 L209.0,563.6 L212.1,563.6 L215.1,563.6 L218.2,563.7 L221.2,563.7 L224.2,563.7 L227.3,563.7 L230.3,563.8 L233.4,563.8 L236.4,563.8 L239.5,563.9 L242.5,563.9 L245.5,563.9 L248.6,564.0 L251.6,564.0 L254.7,564.1 L257.7,564.1 L260.8,564.2 L263.8,564.2 L266.9,564.3 L269.9,564.3 L272.9,564.4 L276.0,564.4 L279.0,564.5 L282.1,564.5 L285.1,564.6 L288.2,564.7 L291.2,564.7 L294.3,564.8 L297.3,564.9 L300.3,564.9 L303.4,565.0 L306.4,565.1 L309.5,565.2 L312.5,565.3 L315.6,565.3 L318.6,565.4 L321.6,565.5 L324.7,565.6 L327.7,565.7 L330.8,565.8 L333.8,565.9 L336.9,566.0 L339.9,566.1 L343.0,566.2 L346.0,566.3 L349.0,566.4 L352.1,566.6 L355.1,566.7 L358.2,566.8 L361.2,566.9 L364.3,567.1 L367.3,567.2 L370.4,567.3 L373.4,567.5 L376.4,567.6 L379.5,567.8 L382.5,567.9 L385.6,568.1 L388.6,568.2 L391.7,568.4 L394.7,568.6 L397.7,568.8 L400.8,568.9 L403.8,569.1 L406.9,569.3 L409.9,569.5 L413.0,569.7 L416.0,570.0 L419.1,570.2 L422.1,570.4 L425.1,570.7 L428.2,570.9 L431.2,571.2 L434.3,571.4 L437.3,571.7 L440.4,572.0 L443.4,572.3 L446.5,572.6 L449.5,572.9 L452.5,573.2 L455.6,573.5 L458.6,573.9 L461.7,574.2 L464.7,574.6 L467.8,574.9 L470.8,575.3 L473.9,575.7 L476.9,576.1 L479.9,576.5 L483.0,576.9 L486.0,577.3 L489.1,577.8 L492.1,578.2 L495.2,578.7 L498.2,579.2 L501.2,579.7 L504.3,580.2 L507.3,580.7 L510.4,581.2 L513.4,581.8 L516.5,582.3 L519.5,582.9 L522.6,583.5 L525.6,584.0 L528.6,584.6 L531.7,585.3 L534.7,585.9 L537.8,586.5 L540.8,587.2 L543.9,587.8 L546.9,588.5 L550.0,589.2 L553.0,589.9 L556.0,590.6 L559.1,591.3 L562.1,592.1 L565.2,592.8 L568.2,593.6 L571.3,594.3 L574.3,595.1 L577.3,595.9 L580.4,596.7 L583.4,597.5 L586.5,598.3 L589.5,599.2 L592.6,600.0 L595.6,600.9 L598.7,601.7 L601.7,602.6 L604.7,603.5 L607.8,604.4 L610.8,605.3 L613.9,606.2 L616.9,607.1 L620.0,608.0 L623.0,609.0 L626.1,609.9 L629.1,610.9 L632.1,611.8 L635.2,612.8 L638.2,613.8 L641.3,614.8 L644.3,615.7 L647.4,616.7 L650.4,617.7 L653.4,618.8 L656.5,619.8 L659.5,620.8 L662.6,621.8 L665.6,622.9 L668.7,623.9 L671.7,625.0 L674.8,626.0 L677.8,627.1 L680.8,628.1 L683.9,629.2 L686.9,630.3 L690.0,631.4 L693.0,632.5 L696.1,633.6 L699.1,634.7 L702.2,635.8 L705.2,636.9 L708.2,638.0 L711.3,639.2 L714.3,640.3 L717.4,641.4 L720.4,642.6 L723.5,643.7 L726.5,644.8 L729.5,646.0 L732.6,647.1 L735.6,648.3 L738.7,649.5 L741.7,650.6 L744.8,651.8 L747.8,652.9 L750.9,654.1 L753.9,655.3 L756.9,656.4 L760.0,657.6 L763.0,658.8 L766.1,660.0 L769.1,661.1 L772.2,662.3 L775.2,663.5 L778.3,664.7 L781.3,665.9 L784.3,667.0 L787.4,668.2 L790.4,669.4 L793.5,670.6 L796.5,671.8 L799.6,672.9 L802.6,674.1 L805.6,675.3 L808.7,676.5 L811.7,677.6 L814.8,678.8 L817.8,680.0 L820.9,681.1 L823.9,682.3 L827.0,683.5 L830.0,684.6" fill="none" stroke="#ff0000" stroke-width="2.1" stroke-linejoin="round"/>
<path d="M41.6,519.4 L44.6,519.5 L47.7,519.6 L50.7,519.6 L53.8,519.7 L56.8,519.8 L59.9,519.8 L62.9,519.9 L66.0,519.9 L69.0,520.0 L72.0,520.0 L75.1,520.1 L78.1,520.1 L81.2,520.2 L84.2,520.2 L87.3,520.3 L90.3,520.3 L93.3,520.3 L96.4,520.4 L99.4,520.4 L102.5,520.4 L105.5,520.4 L108.6,520.5 L111.6,520.5 L114.7,520.5 L117.7,520.5 L120.7,520.6 L123.8,520.6 L126.8,520.6 L129.9,520.6 L132.9,520.6 L136.0,520.7 L139.0,520.7 L142.1,520.7 L145.1,520.7 L148.1,520.8 L151.2,520.8 L154.2,520.8 L157.3,520.8 L160.3,520.9 L163.4,520.9 L166.4,520.9 L169.4,521.0 L172.5,521.0 L175.5,521.0 L178.6,521.1 L181.6,521.1 L184.7,521.2 L187.7,521.2 L190.8,521.3 L193.8,521.3 L196.8,521.4 L199.9,521.4 L202.9,521.5 L206.0,521.6 L209.0,521.6 L212.1,521.7 L215.1,521.8 L218.2,521.9 L221.2,522.0 L224.2,522.0 L227.3,522.1 L230.3,522.2 L233.4,522.3 L236.4,522.5 L239.5,522.6 L242.5,522.7 L245.5,522.8 L248.6,522.9 L251.6,523.1 L254.7,523.2 L257.7,523.4 L260.8,523.5 L263.8,523.7 L266.9,523.9 L269.9,524.0 L272.9,524.2 L276.0,524.4 L279.0,524.6 L282.1,524.8 L285.1,525.0 L288.2,525.2 L291.2,525.4 L294.3,525.7 L297.3,525.9 L300.3,526.2 L303.4,526.4 L306.4,526.7 L309.5,526.9 L312.5,527.2 L315.6,527.5 L318.6,527.8 L321.6,528.1 L324.7,528.4 L327.7,528.7 L330.8,529.1 L333.8,529.4 L336.9,529.8 L339.9,530.1 L343.0,530.5 L346.0,530.9 L349.0,531.3 L352.1,531.7 L355.1,532.1 L358.2,532.5 L361.2,532.9 L364.3,533.4 L367.3,533.8 L370.4,534.3 L373.4,534.8 L376.4,535.2 L379.5,535.7 L382.5,536.2 L385.6,536.7 L388.6,537.2 L391.7,537.8 L394.7,538.3 L397.7,538.8 L400.8,539.4 L403.8,540.0 L406.9,540.5 L409.9,541.1 L413.0,541.7 L416.0,542.3 L419.1,542.9 L422.1,543.6 L425.1,544.2 L428.2,544.8 L431.2,545.5 L434.3,546.2 L437.3,546.9 L440.4,547.6 L443.4,548.3 L446.5,549.0 L449.5,549.7 L452.5,550.4 L455.6,551.2 L458.6,552.0 L461.7,552.7 L464.7,553.5 L467.8,554.3 L470.8,555.1 L473.9,555.9 L476.9,556.7 L479.9,557.6 L483.0,558.4 L486.0,559.3 L489.1,560.1 L492.1,561.0 L495.2,561.9 L498.2,562.8 L501.2,563.6 L504.3,564.6 L507.3,565.5 L510.4,566.4 L513.4,567.3 L516.5,568.3 L519.5,569.2 L522.6,570.2 L525.6,571.1 L528.6,572.1 L531.7,573.1 L534.7,574.0 L537.8,575.0 L540.8,576.0 L543.9,577.0 L546.9,578.0 L550.0,579.1 L553.0,580.1 L556.0,581.1 L559.1,582.1 L562.1,583.2 L565.2,584.2 L568.2,585.3 L571.3,586.4 L574.3,587.4 L577.3,588.5 L580.4,589.6 L583.4,590.6 L586.5,591.7 L589.5,592.8 L592.6,593.9 L595.6,595.0 L598.7,596.1 L601.7,597.2 L604.7,598.3 L607.8,599.5 L610.8,600.6 L613.9,601.7 L616.9,602.8 L620.0,604.0 L623.0,605.1 L626.1,606.2 L629.1,607.4 L632.1,608.5 L635.2,609.7 L638.2,610.8 L641.3,612.0 L644.3,613.1 L647.4,614.3 L650.4,615.5 L653.4,616.6 L656.5,617.8 L659.5,619.0 L662.6,620.1 L665.6,621.3 L668.7,622.5 L671.7,623.7 L674.8,624.8 L677.8,626.0 L680.8,627.2 L683.9,628.4 L686.9,629.6 L690.0,630.7 L693.0,631.9 L696.1,633.1 L699.1,634.3 L702.2,635.5 L705.2,636.7 L708.2,637.9 L711.3,639.1 L714.3,640.2 L717.4,641.4 L720.4,642.6 L723.5,643.8 L726.5,645.0 L729.5,646.2 L732.6,647.4 L735.6,648.6 L738.7,649.8 L741.7,650.9 L744.8,652.1 L747.8,653.3 L750.9,654.5 L753.9,655.7 L756.9,656.8 L760.0,658.0 L763.0,659.2 L766.1,660.4 L769.1,661.5 L772.2,662.7 L775.2,663.9 L778.3,665.1 L781.3,666.2 L784.3,667.4 L787.4,668.5 L790.4,669.7 L793.5,670.8 L796.5,672.0 L799.6,673.1 L802.6,674.3 L805.6,675.4 L808.7,676.6 L811.7,677.7 L814.8,678.8 L817.8,680.0 L820.9,681.1 L823.9,682.2 L827.0,683.3 L830.0,684.4" fill="none" stroke="#ff0000" stroke-width="2.1" stroke-linejoin="round"/>
<path d="M41.6,499.4 L44.6,499.5 L47.7,499.6 L50.7,499.7 L53.8,499.8 L56.8,499.9 L59.9,500.0 L62.9,500.1 L66.0,500.2 L69.0,500.3 L72.0,500.4 L75.1,500.4 L78.1,500.5 L81.2,500.6 L84.2,500.6 L87.3,500.7 L90.3,500.7 L93.3,500.8 L96.4,500.9 L99.4,500.9 L102.5,500.9 L105.5,501.0 L108.6,501.0 L111.6,501.1 L114.7,501.1 L117.7,501.2 L120.7,501.2 L123.8,501.2 L126.8,501.3 L129.9,501.3 L132.9,501.4 L136.0,501.4 L139.0,501.4 L142.1,501.5 L145.1,501.5 L148.1,501.6 L151.2,501.6 L154.2,501.6 L157.3,501.7 L160.3,501.7 L163.4,501.8 L166.4,501.8 L169.4,501.9 L172.5,502.0 L175.5,502.0 L178.6,502.1 L181.6,502.1 L184.7,502.2 L187.7,502.3 L190.8,502.4 L193.8,502.5 L196.8,502.5 L199.9,502.6 L202.9,502.7 L206.0,502.8 L209.0,503.0 L212.1,503.1 L215.1,503.2 L218.2,503.3 L221.2,503.4 L224.2,503.6 L227.3,503.7 L230.3,503.9 L233.4,504.0 L236.4,504.2 L239.5,504.4 L242.5,504.6 L245.5,504.8 L248.6,505.0 L251.6,505.2 L254.7,505.4 L257.7,505.6 L260.8,505.8 L263.8,506.1 L266.9,506.3 L269.9,506.6 L272.9,506.9 L276.0,507.1 L279.0,507.4 L282.1,507.7 L285.1,508.0 L288.2,508.4 L291.2,508.7 L294.3,509.0 L297.3,509.4 L300.3,509.8 L303.4,510.2 L306.4,510.5 L309.5,510.9 L312.5,511.4 L315.6,511.8 L318.6,512.2 L321.6,512.7 L324.7,513.2 L327.7,513.7 L330.8,514.2 L333.8,514.7 L336.9,515.2 L339.9,515.7 L343.0,516.3 L346.0,516.9 L349.0,517.4 L352.1,518.0 L355.1,518.6 L358.2,519.3 L361.2,519.9 L364.3,520.5 L367.3,521.2 L370.4,521.9 L373.4,522.6 L376.4,523.3 L379.5,524.0 L382.5,524.7 L385.6,525.4 L388.6,526.2 L391.7,526.9 L394.7,527.7 L397.7,528.5 L400.8,529.3 L403.8,530.1 L406.9,530.9 L409.9,531.7 L413.0,532.5 L416.0,533.4 L419.1,534.3 L422.1,535.1 L425.1,536.0 L428.2,536.9 L431.2,537.8 L434.3,538.7 L437.3,539.6 L440.4,540.5 L443.4,541.5 L446.5,542.4 L449.5,543.4 L452.5,544.3 L455.6,545.3 L458.6,546.3 L461.7,547.3 L464.7,548.3 L467.8,549.3 L470.8,550.3 L473.9,551.3 L476.9,552.3 L479.9,553.3 L483.0,554.4 L486.0,555.4 L489.1,556.5 L492.1,557.5 L495.2,558.6 L498.2,559.6 L501.2,560.7 L504.3,561.8 L507.3,562.8 L510.4,563.9 L513.4,565.0 L516.5,566.1 L519.5,567.2 L522.6,568.3 L525.6,569.4 L528.6,570.5 L531.7,571.6 L534.7,572.7 L537.8,573.8 L540.8,574.9 L543.9,576.0 L546.9,577.1 L550.0,578.3 L553.0,579.4 L556.0,580.5 L559.1,581.6 L562.1,582.7 L565.2,583.8 L568.2,585.0 L571.3,586.1 L574.3,587.2 L577.3,588.3 L580.4,589.5 L583.4,590.6 L586.5,591.7 L589.5,592.8 L592.6,594.0 L595.6,595.1 L598.7,596.2 L601.7,597.4 L604.7,598.5 L607.8,599.7 L610.8,600.8 L613.9,601.9 L616.9,603.1 L620.0,604.2 L623.0,605.4 L626.1,606.5 L629.1,607.6 L632.1,608.8 L635.2,609.9 L638.2,611.1 L641.3,612.2 L644.3,613.4 L647.4,614.5 L650.4,615.7 L653.4,616.8 L656.5,618.0 L659.5,619.1 L662.6,620.3 L665.6,621.4 L668.7,622.6 L671.7,623.8 L674.8,624.9 L677.8,626.1 L680.8,627.2 L683.9,628.4 L686.9,629.5 L690.0,630.7 L693.0,631.9 L696.1,633.0 L699.1,634.2 L702.2,635.4 L705.2,636.5 L708.2,637.7 L711.3,638.8 L714.3,640.0 L717.4,641.2 L720.4,642.3 L723.5,643.5 L726.5,644.7 L729.5,645.8 L732.6,647.0 L735.6,648.2 L738.7,649.3 L741.7,650.5 L744.8,651.7 L747.8,652.9 L750.9,654.0 L753.9,655.2 L756.9,656.4 L760.0,657.5 L763.0,658.7 L766.1,659.9 L769.1,661.1 L772.2,662.2 L775.2,663.4 L778.3,664.6 L781.3,665.7 L784.3,666.9 L787.4,668.1 L790.4,669.3 L793.5,670.4 L796.5,671.6 L799.6,672.8 L802.6,674.0 L805.6,675.1 L808.7,676.3 L811.7,677.5 L814.8,678.6 L817.8,679.8 L820.9,681.0 L823.9,682.2 L827.0,683.3 L830.0,684.5" fill="none" stroke="#ff0000" stroke-width="2.1" stroke-linejoin="round"/>
<path d="M41.6,485.9 L44.6,485.9 L47.7,485.9 L50.7,486.0 L53.8,486.0 L56.8,486.0 L59.9,486.1 L62.9,486.1 L66.0,486.1 L69.0,486.1 L72.0,486.1 L75.1,486.2 L78.1,486.2 L81.2,486.2 L84.2,486.2 L87.3,486.3 L90.3,486.3 L93.3,486.3 L96.4,486.3 L99.4,486.4 L102.5,486.4 L105.5,486.4 L108.6,486.5 L111.6,486.5 L114.7,486.6 L117.7,486.6 L120.7,486.6 L123.8,486.7 L126.8,486.7 L129.9,486.8 L132.9,486.9 L136.0,486.9 L139.0,487.0 L142.1,487.1 L145.1,487.1 L148.1,487.2 L151.2,487.3 L154.2,487.4 L157.3,487.5 L160.3,487.6 L163.4,487.7 L166.4,487.8 L169.4,487.9 L172.5,488.0 L175.5,488.2 L178.6,488.3 L181.6,488.5 L184.7,488.6 L187.7,488.8 L190.8,488.9 L193.8,489.1 L196.8,489.3 L199.9,489.5 L202.9,489.7 L206.0,489.9 L209.0,490.1 L212.1,490.3 L215.1,490.5 L218.2,490.8 L221.2,491.0 L224.2,491.3 L227.3,491.5 L230.3,491.8 L233.4,492.1 L236.4,492.4 L239.5,492.7 L242.5,493.0 L245.5,493.3 L248.6,493.7 L251.6,494.0 L254.7,494.4 L257.7,494.7 L260.8,495.1 L263.8,495.5 L266.9,495.9 L269.9,496.3 L272.9,496.8 L276.0,497.2 L279.0,497.7 L282.1,498.1 L285.1,498.6 L288.2,499.1 L291.2,499.6 L294.3,500.1 L297.3,500.7 L300.3,501.2 L303.4,501.8 L306.4,502.3 L309.5,502.9 L312.5,503.5 L315.6,504.1 L318.6,504.8 L321.6,505.4 L324.7,506.1 L327.7,506.7 L330.8,507.4 L333.8,508.1 L336.9,508.8 L339.9,509.5 L343.0,510.3 L346.0,511.0 L349.0,511.7 L352.1,512.5 L355.1,513.3 L358.2,514.1 L361.2,514.9 L364.3,515.7 L367.3,516.5 L370.4,517.3 L373.4,518.1 L376.4,519.0 L379.5,519.8 L382.5,520.7 L385.6,521.5 L388.6,522.4 L391.7,523.3 L394.7,524.2 L397.7,525.1 L400.8,526.0 L403.8,526.9 L406.9,527.9 L409.9,528.8 L413.0,529.7 L416.0,530.7 L419.1,531.6 L422.1,532.6 L425.1,533.6 L428.2,534.5 L431.2,535.5 L434.3,536.5 L437.3,537.5 L440.4,538.5 L443.4,539.5 L446.5,540.5 L449.5,541.6 L452.5,542.6 L455.6,543.6 L458.6,544.7 L461.7,545.7 L464.7,546.8 L467.8,547.8 L470.8,548.9 L473.9,549.9 L476.9,551.0 L479.9,552.1 L483.0,553.1 L486.0,554.2 L489.1,555.3 L492.1,556.4 L495.2,557.5 L498.2,558.6 L501.2,559.7 L504.3,560.8 L507.3,561.9 L510.4,563.0 L513.4,564.1 L516.5,565.2 L519.5,566.4 L522.6,567.5 L525.6,568.6 L528.6,569.7 L531.7,570.9 L534.7,572.0 L537.8,573.1 L540.8,574.3 L543.9,575.4 L546.9,576.5 L550.0,577.7 L553.0,578.8 L556.0,580.0 L559.1,581.1 L562.1,582.3 L565.2,583.4 L568.2,584.5 L571.3,585.7 L574.3,586.8 L577.3,588.0 L580.4,589.1 L583.4,590.3 L586.5,591.4 L589.5,592.6 L592.6,593.7 L595.6,594.9 L598.7,596.0 L601.7,597.2 L604.7,598.3 L607.8,599.5 L610.8,600.6 L613.9,601.8 L616.9,602.9 L620.0,604.1 L623.0,605.2 L626.1,606.4 L629.1,607.5 L632.1,608.7 L635.2,609.8 L638.2,611.0 L641.3,612.1 L644.3,613.3 L647.4,614.4 L650.4,615.6 L653.4,616.7 L656.5,617.9 L659.5,619.0 L662.6,620.2 L665.6,621.3 L668.7,622.5 L671.7,623.6 L674.8,624.8 L677.8,625.9 L680.8,627.1 L683.9,628.3 L686.9,629.4 L690.0,630.6 L693.0,631.7 L696.1,632.9 L699.1,634.0 L702.2,635.2 L705.2,636.3 L708.2,637.5 L711.3,638.7 L714.3,639.8 L717.4,641.0 L720.4,642.1 L723.5,643.3 L726.5,644.5 L729.5,645.6 L732.6,646.8 L735.6,648.0 L738.7,649.1 L741.7,650.3 L744.8,651.5 L747.8,652.6 L750.9,653.8 L753.9,655.0 L756.9,656.1 L760.0,657.3 L763.0,658.5 L766.1,659.6 L769.1,660.8 L772.2,662.0 L775.2,663.1 L778.3,664.3 L781.3,665.5 L784.3,666.7 L787.4,667.8 L790.4,669.0 L793.5,670.2 L796.5,671.4 L799.6,672.6 L802.6,673.7 L805.6,674.9 L808.7,676.1 L811.7,677.3 L814.8,678.5 L817.8,679.7 L820.9,680.8 L823.9,682.0 L827.0,683.2 L830.0,684.4" fill="none" stroke="#ff0000" stroke-width="2.1" stroke-linejoin="round"/>
<path d="M41.6,481.9 L44.6,482.0 L47.7,482.0 L50.7,482.1 L53.8,482.2 L56.8,482.2 L59.9,482.3 L62.9,482.4 L66.0,482.4 L69.0,482.5 L72.0,482.5 L75.1,482.6 L78.1,482.6 L81.2,482.7 L84.2,482.7 L87.3,482.8 L90.3,482.8 L93.3,482.9 L96.4,482.9 L99.4,483.0 L102.5,483.0 L105.5,483.1 L108.6,483.2 L111.6,483.2 L114.7,483.3 L117.7,483.3 L120.7,483.4 L123.8,483.4 L126.8,483.5 L129.9,483.6 L132.9,483.6 L136.0,483.7 L139.0,483.8 L142.1,483.8 L145.1,483.9 L148.1,484.0 L151.2,484.1 L154.2,484.2 L157.3,484.2 L160.3,484.3 L163.4,484.4 L166.4,484.5 L169.4,484.6 L172.5,484.7 L175.5,484.8 L178.6,485.0 L181.6,485.1 L184.7,485.2 L187.7,485.3 L190.8,485.5 L193.8,485.6 L196.8,485.7 L199.9,485.9 L202.9,486.1 L206.0,486.2 L209.0,486.4 L212.1,486.6 L215.1,486.7 L218.2,486.9 L221.2,487.1 L224.2,487.3 L227.3,487.5 L230.3,487.7 L233.4,487.9 L236.4,488.2 L239.5,488.4 L242.5,488.7 L245.5,488.9 L248.6,489.2 L251.6,489.4 L254.7,489.7 L257.7,490.0 L260.8,490.3 L263.8,490.6 L266.9,490.9 L269.9,491.2 L272.9,491.6 L276.0,491.9 L279.0,492.3 L282.1,492.7 L285.1,493.0 L288.2,493.4 L291.2,493.9 L294.3,494.3 L297.3,494.7 L300.3,495.2 L303.4,495.7 L306.4,496.2 L309.5,496.7 L312.5,497.2 L315.6,497.8 L318.6,498.3 L321.6,498.9 L324.7,499.5 L327.7,500.1 L330.8,500.8 L333.8,501.4 L336.9,502.1 L339.9,502.8 L343.0,503.6 L346.0,504.3 L349.0,505.1 L352.1,505.8 L355.1,506.6 L358.2,507.4 L361.2,508.3 L364.3,509.1 L367.3,509.9 L370.4,510.8 L373.4,511.7 L376.4,512.5 L379.5,513.4 L382.5,514.3 L385.6,515.2 L388.6,516.1 L391.7,517.0 L394.7,517.9 L397.7,518.8 L400.8,519.7 L403.8,520.6 L406.9,521.5 L409.9,522.5 L413.0,523.4 L416.0,524.3 L419.1,525.2 L422.1,526.2 L425.1,527.1 L428.2,528.1 L431.2,529.0 L434.3,529.9 L437.3,530.9 L440.4,531.9 L443.4,532.8 L446.5,533.8 L449.5,534.7 L452.5,535.7 L455.6,536.7 L458.6,537.6 L461.7,538.6 L464.7,539.6 L467.8,540.6 L470.8,541.6 L473.9,542.5 L476.9,543.5 L479.9,544.5 L483.0,545.5 L486.0,546.5 L489.1,547.5 L492.1,548.5 L495.2,549.5 L498.2,550.5 L501.2,551.5 L504.3,552.5 L507.3,553.6 L510.4,554.6 L513.4,555.6 L516.5,556.6 L519.5,557.6 L522.6,558.7 L525.6,559.7 L528.6,560.7 L531.7,561.8 L534.7,562.8 L537.8,563.8 L540.8,564.9 L543.9,565.9 L546.9,566.9 L550.0,568.0 L553.0,569.0 L556.0,570.1 L559.1,571.1 L562.1,572.2 L565.2,573.2 L568.2,574.3 L571.3,575.4 L574.3,576.4 L577.3,577.5 L580.4,578.5 L583.4,579.6 L586.5,580.7 L589.5,581.7 L592.6,582.8 L595.6,583.9 L598.7,584.9 L601.7,586.0 L604.7,587.1 L607.8,588.2 L610.8,589.3 L613.9,590.3 L616.9,591.4 L620.0,592.5 L623.0,593.6 L626.1,594.7 L629.1,595.7 L632.1,596.8 L635.2,597.9 L638.2,599.0 L641.3,600.1 L644.3,601.2 L647.4,602.3 L650.4,603.4 L653.4,604.5 L656.5,605.6 L659.5,606.7 L662.6,607.8 L665.6,608.9 L668.7,609.9 L671.7,611.0 L674.8,612.1 L677.8,613.2 L680.8,614.3 L683.9,615.5 L686.9,616.6 L690.0,617.7 L693.0,618.8 L696.1,619.9 L699.1,621.0 L702.2,622.1 L705.2,623.2 L708.2,624.3 L711.3,625.4 L714.3,626.5 L717.4,627.6 L720.4,628.7 L723.5,629.8 L726.5,630.9 L729.5,632.0 L732.6,633.1 L735.6,634.2 L738.7,635.4 L741.7,636.5 L744.8,637.6 L747.8,638.7 L750.9,639.8 L753.9,640.9 L756.9,642.0 L760.0,643.1 L763.0,644.2 L766.1,645.3 L769.1,646.4 L772.2,647.5 L775.2,648.6 L778.3,649.7 L781.3,650.8 L784.3,652.0 L787.4,653.1 L790.4,654.2 L793.5,655.3 L796.5,656.4 L799.6,657.5 L802.6,658.6 L805.6,659.7 L808.7,660.8 L811.7,661.9 L814.8,663.0 L817.8,664.1 L820.9,665.2 L823.9,666.3 L827.0,667.4 L830.0,668.5" fill="none" stroke="#ff0000" stroke-width="2.1" stroke-linejoin="round"/>
<path d="M41.6,482.0 L44.6,482.0 L47.7,482.1 L50.7,482.1 L53.8,482.2 L56.8,482.3 L59.9,482.3 L62.9,482.4 L66.0,482.4 L69.0,482.4 L72.0,482.5 L75.1,482.5 L78.1,482.6 L81.2,482.6 L84.2,482.7 L87.3,482.7 L90.3,482.7 L93.3,482.8 L96.4,482.8 L99.4,482.8 L102.5,482.9 L105.5,482.9 L108.6,483.0 L111.6,483.0 L114.7,483.0 L117.7,483.1 L120.7,483.1 L123.8,483.2 L126.8,483.2 L129.9,483.3 L132.9,483.3 L136.0,483.4 L139.0,483.4 L142.1,483.5 L145.1,483.6 L148.1,483.6 L151.2,483.7 L154.2,483.8 L157.3,483.8 L160.3,483.9 L163.4,484.0 L166.4,484.1 L169.4,484.2 L172.5,484.3 L175.5,484.4 L178.6,484.5 L181.6,484.6 L184.7,484.7 L187.7,484.8 L190.8,484.9 L193.8,485.1 L196.8,485.2 L199.9,485.4 L202.9,485.5 L206.0,485.7 L209.0,485.8 L212.1,486.0 L215.1,486.2 L218.2,486.4 L221.2,486.5 L224.2,486.7 L227.3,487.0 L230.3,487.2 L233.4,487.4 L236.4,487.6 L239.5,487.9 L242.5,488.1 L245.5,488.4 L248.6,488.6 L251.6,488.9 L254.7,489.2 L257.7,489.5 L260.8,489.8 L263.8,490.1 L266.9,490.4 L269.9,490.7 L272.9,491.1 L276.0,491.4 L279.0,491.8 L282.1,492.2 L285.1,492.6 L288.2,493.0 L291.2,493.4 L294.3,493.8 L297.3,494.2 L300.3,494.7 L303.4,495.1 L306.4,495.6 L309.5,496.1 L312.5,496.6 L315.6,497.1 L318.6,497.6 L321.6,498.1 L324.7,498.7 L327.7,499.2 L330.8,499.8 L333.8,500.4 L336.9,501.0 L339.9,501.6 L343.0,502.3 L346.0,502.9 L349.0,503.6 L352.1,504.2 L355.1,504.9 L358.2,505.6 L361.2,506.4 L364.3,507.1 L367.3,507.8 L370.4,508.6 L373.4,509.4 L376.4,510.2 L379.5,511.0 L382.5,511.8 L385.6,512.6 L388.6,513.4 L391.7,514.3 L394.7,515.1 L397.7,516.0 L400.8,516.8 L403.8,517.7 L406.9,518.6 L409.9,519.5 L413.0,520.4 L416.0,521.3 L419.1,522.3 L422.1,523.2 L425.1,524.1 L428.2,525.1 L431.2,526.0 L434.3,527.0 L437.3,527.9 L440.4,528.9 L443.4,529.8 L446.5,530.8 L449.5,531.8 L452.5,532.8 L455.6,533.8 L458.6,534.7 L461.7,535.7 L464.7,536.7 L467.8,537.7 L470.8,538.7 L473.9,539.7 L476.9,540.7 L479.9,541.7 L483.0,542.7 L486.0,543.7 L489.1,544.7 L492.1,545.7 L495.2,546.6 L498.2,547.6 L501.2,548.6 L504.3,549.6 L507.3,550.6 L510.4,551.6 L513.4,552.6 L516.5,553.6 L519.5,554.6 L522.6,555.6 L525.6,556.6 L528.6,557.5 L531.7,558.5 L534.7,559.5 L537.8,560.5 L540.8,561.5 L543.9,562.5 L546.9,563.5 L550.0,564.5 L553.0,565.4 L556.0,566.4 L559.1,567.4 L562.1,568.4 L565.2,569.4 L568.2,570.4 L571.3,571.4 L574.3,572.3 L577.3,573.3 L580.4,574.3 L583.4,575.3 L586.5,576.3 L589.5,577.3 L592.6,578.3 L595.6,579.2 L598.7,580.2 L601.7,581.2 L604.7,582.2 L607.8,583.2 L610.8,584.1 L613.9,585.1 L616.9,586.1 L620.0,587.1 L623.0,588.1 L626.1,589.1 L629.1,590.0 L632.1,591.0 L635.2,592.0 L638.2,593.0 L641.3,594.0 L644.3,594.9 L647.4,595.9 L650.4,596.9 L653.4,597.9 L656.5,598.9 L659.5,599.9 L662.6,600.8 L665.6,601.8 L668.7,602.8 L671.7,603.8 L674.8,604.8 L677.8,605.7 L680.8,606.7 L683.9,607.7 L686.9,608.7 L690.0,609.7 L693.0,610.6 L696.1,611.6 L699.1,612.6 L702.2,613.6 L705.2,614.6 L708.2,615.5 L711.3,616.5 L714.3,617.5 L717.4,618.5 L720.4,619.5 L723.5,620.5 L726.5,621.4 L729.5,622.4 L732.6,623.4 L735.6,624.4 L738.7,625.4 L741.7,626.3 L744.8,627.3 L747.8,628.3 L750.9,629.3 L753.9,630.3 L756.9,631.3 L760.0,632.2 L763.0,633.2 L766.1,634.2 L769.1,635.2 L772.2,636.2 L775.2,637.1 L778.3,638.1 L781.3,639.1 L784.3,640.1 L787.4,641.1 L790.4,642.1 L793.5,643.0 L796.5,644.0 L799.6,645.0 L802.6,646.0 L805.6,647.0 L808.7,648.0 L811.7,649.0 L814.8,649.9 L817.8,650.9 L820.9,651.9 L823.9,652.9 L827.0,653.9 L830.0,654.9" fill="none" stroke="#ff0000" stroke-width="2.1" stroke-linejoin="round"/>
<path d="M34.54,397.62 L47.54,401.82 M60.87,406.14 L73.87,410.34 M87.20,414.65 L100.20,418.86 M113.53,423.17 L126.53,427.37 M139.86,431.69 L152.86,435.89 M166.19,440.20 L179.19,444.41 M192.52,448.72 L205.52,452.92 M218.85,457.24 L231.85,461.44 M245.18,465.75 L258.18,469.96 M271.51,474.27 L284.51,478.47 M297.84,482.78 L310.84,486.99 M324.17,491.30 L337.17,495.51 M350.50,499.82 L363.50,504.02 M376.83,508.33 L389.83,512.54 M403.16,516.85 L416.16,521.06 M429.49,525.37 L442.49,529.57 M455.82,533.88 L468.82,538.09 M482.15,542.40 L495.15,546.61 M508.48,550.92 L521.48,555.12 M534.81,559.43 L547.81,563.64 M561.14,567.95 L574.14,572.15 M587.47,576.47 L600.47,580.67 M613.80,584.98 L626.80,589.19 M640.13,593.50 L653.13,597.70 M666.46,602.02 L679.46,606.22 M692.79,610.53 L705.79,614.74 M719.12,619.05 L732.12,623.25 M745.45,627.57 L758.45,631.77 M771.78,636.08 L784.78,640.29 M798.11,644.60 L811.11,648.80 M824.44,653.11 L837.44,657.32" fill="none" stroke="#00a000" stroke-width="2.4"/>
</g>
<line x1="436.05" y1="46.50" x2="436.05" y2="60.40" stroke="#000" stroke-width="2.1" />
<line x1="436.05" y1="74.18" x2="436.05" y2="88.08" stroke="#000" stroke-width="2.1" />
<line x1="436.05" y1="101.86" x2="436.05" y2="115.76" stroke="#000" stroke-width="2.1" />
<line x1="436.05" y1="129.54" x2="436.05" y2="143.44" stroke="#000" stroke-width="2.1" />
<line x1="436.05" y1="157.22" x2="436.05" y2="171.12" stroke="#000" stroke-width="2.1" />
<line x1="436.05" y1="184.90" x2="436.05" y2="198.80" stroke="#000" stroke-width="2.1" />
<line x1="436.05" y1="212.58" x2="436.05" y2="226.48" stroke="#000" stroke-width="2.1" />
<line x1="436.05" y1="240.26" x2="436.05" y2="254.16" stroke="#000" stroke-width="2.1" />
<line x1="436.05" y1="267.94" x2="436.05" y2="281.84" stroke="#000" stroke-width="2.1" />
<line x1="436.05" y1="295.62" x2="436.05" y2="309.52" stroke="#000" stroke-width="2.1" />
<line x1="436.05" y1="323.30" x2="436.05" y2="337.20" stroke="#000" stroke-width="2.1" />
<line x1="436.05" y1="350.98" x2="436.05" y2="364.88" stroke="#000" stroke-width="2.1" />
<line x1="436.05" y1="378.66" x2="436.05" y2="392.56" stroke="#000" stroke-width="2.1" />
<line x1="436.05" y1="406.34" x2="436.05" y2="414.60" stroke="#000" stroke-width="2.1" />
<line x1="436.05" y1="428.10" x2="436.05" y2="442.00" stroke="#000" stroke-width="2.1" />
<line x1="436.05" y1="455.85" x2="436.05" y2="469.75" stroke="#000" stroke-width="2.1" />
<line x1="436.05" y1="483.60" x2="436.05" y2="497.50" stroke="#000" stroke-width="2.1" />
<line x1="436.05" y1="511.35" x2="436.05" y2="525.25" stroke="#000" stroke-width="2.1" />
<line x1="436.05" y1="539.10" x2="436.05" y2="553.00" stroke="#000" stroke-width="2.1" />
<line x1="436.05" y1="566.85" x2="436.05" y2="580.75" stroke="#000" stroke-width="2.1" />
<line x1="436.05" y1="594.60" x2="436.05" y2="608.50" stroke="#000" stroke-width="2.1" />
<line x1="436.05" y1="622.35" x2="436.05" y2="636.25" stroke="#000" stroke-width="2.1" />
<line x1="436.05" y1="650.10" x2="436.05" y2="664.00" stroke="#000" stroke-width="2.1" />
<line x1="436.05" y1="677.85" x2="436.05" y2="691.75" stroke="#000" stroke-width="2.1" />
<line x1="436.05" y1="705.60" x2="436.05" y2="719.50" stroke="#000" stroke-width="2.1" />
<line x1="436.05" y1="733.35" x2="436.05" y2="746.75" stroke="#000" stroke-width="2.1" />
<path d="M41.6,746.75 L41.6,40.9 L830.72,40.9 L830.72,746.75 L41.6,746.75 M41.6,414.6 L830.72,414.6" fill="none" stroke="#000" stroke-width="1.55" stroke-linejoin="round"/>
<text x="1.0" y="58.1" font-family="Liberation Serif" font-size="26.6" text-anchor="start" letter-spacing="0"  textLength="31.5" lengthAdjust="spacingAndGlyphs">80</text>
<text x="1.0" y="139.0" font-family="Liberation Serif" font-size="26.6" text-anchor="start" letter-spacing="0"  textLength="31.5" lengthAdjust="spacingAndGlyphs">60</text>
<text x="0.6" y="226.8" font-family="Liberation Serif" font-size="26.6" text-anchor="start" letter-spacing="0"  textLength="32" lengthAdjust="spacingAndGlyphs">40</text>
<text x="1.0" y="314.7" font-family="Liberation Serif" font-size="26.6" text-anchor="start" letter-spacing="0"  textLength="31.5" lengthAdjust="spacingAndGlyphs">20</text>
<text x="17.5" y="402.7" font-family="Liberation Serif" font-size="26.6" text-anchor="start" letter-spacing="0"  textLength="15" lengthAdjust="spacingAndGlyphs">0</text>
<text x="-8.8" y="501.8" font-family="Liberation Serif" font-size="26.6" textLength="31.5" lengthAdjust="spacingAndGlyphs">10</text>
<text x="23.5" y="489.5" font-family="Liberation Serif" font-size="16.8" textLength="10.1" lengthAdjust="spacingAndGlyphs" stroke="#000" stroke-width="0.3">9</text>
<text x="-8.8" y="629.4" font-family="Liberation Serif" font-size="26.6" textLength="31.5" lengthAdjust="spacingAndGlyphs">10</text>
<text x="23.5" y="617.1" font-family="Liberation Serif" font-size="16.8" textLength="10.1" lengthAdjust="spacingAndGlyphs" stroke="#000" stroke-width="0.3">8</text>
<text x="-8.8" y="746.8" font-family="Liberation Serif" font-size="26.6" textLength="31.5" lengthAdjust="spacingAndGlyphs">10</text>
<text x="23.5" y="734.5" font-family="Liberation Serif" font-size="16.8" textLength="10.1" lengthAdjust="spacingAndGlyphs" stroke="#000" stroke-width="0.3">7</text>
<text x="12.8" y="784.4" font-family="Liberation Serif" font-size="26.6" text-anchor="start" letter-spacing="0"  textLength="55" lengthAdjust="spacingAndGlyphs">0.01</text>
<text x="210.3" y="784.4" font-family="Liberation Serif" font-size="26.6" text-anchor="start" letter-spacing="0"  textLength="55.6" lengthAdjust="spacingAndGlyphs">0.10</text>
<text x="408.0" y="784.4" font-family="Liberation Serif" font-size="26.6" text-anchor="start" letter-spacing="0"  textLength="55.2" lengthAdjust="spacingAndGlyphs">1.00</text>
<text x="597.4" y="784.4" font-family="Liberation Serif" font-size="26.6" text-anchor="start" letter-spacing="0"  textLength="70.8" lengthAdjust="spacingAndGlyphs">10.00</text>
<text x="786.6" y="784.4" font-family="Liberation Serif" font-size="26.6" text-anchor="start" letter-spacing="0"  textLength="84.5" lengthAdjust="spacingAndGlyphs">100.00</text>
<text x="397.3" y="815.4" font-family="Liberation Serif" font-size="27.3" font-style="italic">U</text>
<text x="417" y="825.4" font-family="Liberation Serif" font-size="16.6">*</text>
<text x="427.8" y="820.6" font-family="Liberation Serif" font-size="39.4" font-style="italic">/</text>
<text x="442.4" y="815.4" font-family="Liberation Serif" font-size="27.3" font-style="italic">U</text>
<text x="463.5" y="821.8" font-family="Liberation Serif" font-size="17.25" stroke="#000" stroke-width="0.4">B</text>
<text x="69.3" y="110.8" font-family="Liberation Serif" font-size="21.0">x</text>
<text x="81.9" y="115.0" font-family="Liberation Serif" font-size="14.4" stroke="#000" stroke-width="0.45">o</text>
<text transform="translate(91.1,115.1) scale(1.08,1)" font-family="Liberation Serif" font-size="31.7" font-style="italic">/</text>
<text x="104.8" y="110.8" font-family="Liberation Serif" font-size="21.0">L</text>
<text x="116.1" y="115.2" font-family="Liberation Serif" font-size="14.6" stroke="#000" stroke-width="0.45">x</text>
<text x="125.3" y="110.8" font-family="Liberation Serif" font-size="21.0" textLength="13.2" lengthAdjust="spacingAndGlyphs">=</text>
<text x="140.3" y="110.8" font-family="Liberation Serif" font-size="21.0" text-anchor="start" letter-spacing="0"  textLength="32" lengthAdjust="spacingAndGlyphs">0.8</text>
<text x="68.8" y="162.1" font-family="Liberation Serif" font-size="21.0" text-anchor="start" letter-spacing="0"  textLength="31.6" lengthAdjust="spacingAndGlyphs">0.5</text>
<text x="68.8" y="186.7" font-family="Liberation Serif" font-size="21.0" text-anchor="start" letter-spacing="0"  textLength="31.6" lengthAdjust="spacingAndGlyphs">0.3</text>
<text x="68.8" y="228.3" font-family="Liberation Serif" font-size="21.0" text-anchor="start" letter-spacing="0"  textLength="31.6" lengthAdjust="spacingAndGlyphs">0.2</text>
<text x="68.8" y="283.6" font-family="Liberation Serif" font-size="21.0" text-anchor="start" letter-spacing="0"  textLength="31.6" lengthAdjust="spacingAndGlyphs">0.1</text>
<text x="68.8" y="380.4" font-family="Liberation Serif" font-size="21.0" text-anchor="start" letter-spacing="0"  textLength="12.4" lengthAdjust="spacingAndGlyphs">0</text>
<text x="68.8" y="470.4" font-family="Liberation Serif" font-size="21.0" text-anchor="start" letter-spacing="0"  textLength="12.4" lengthAdjust="spacingAndGlyphs">0</text>
<text x="68.8" y="595.0" font-family="Liberation Serif" font-size="21.0" text-anchor="start" letter-spacing="0"  textLength="31.6" lengthAdjust="spacingAndGlyphs">0.8</text>
</svg>
</body></html>
